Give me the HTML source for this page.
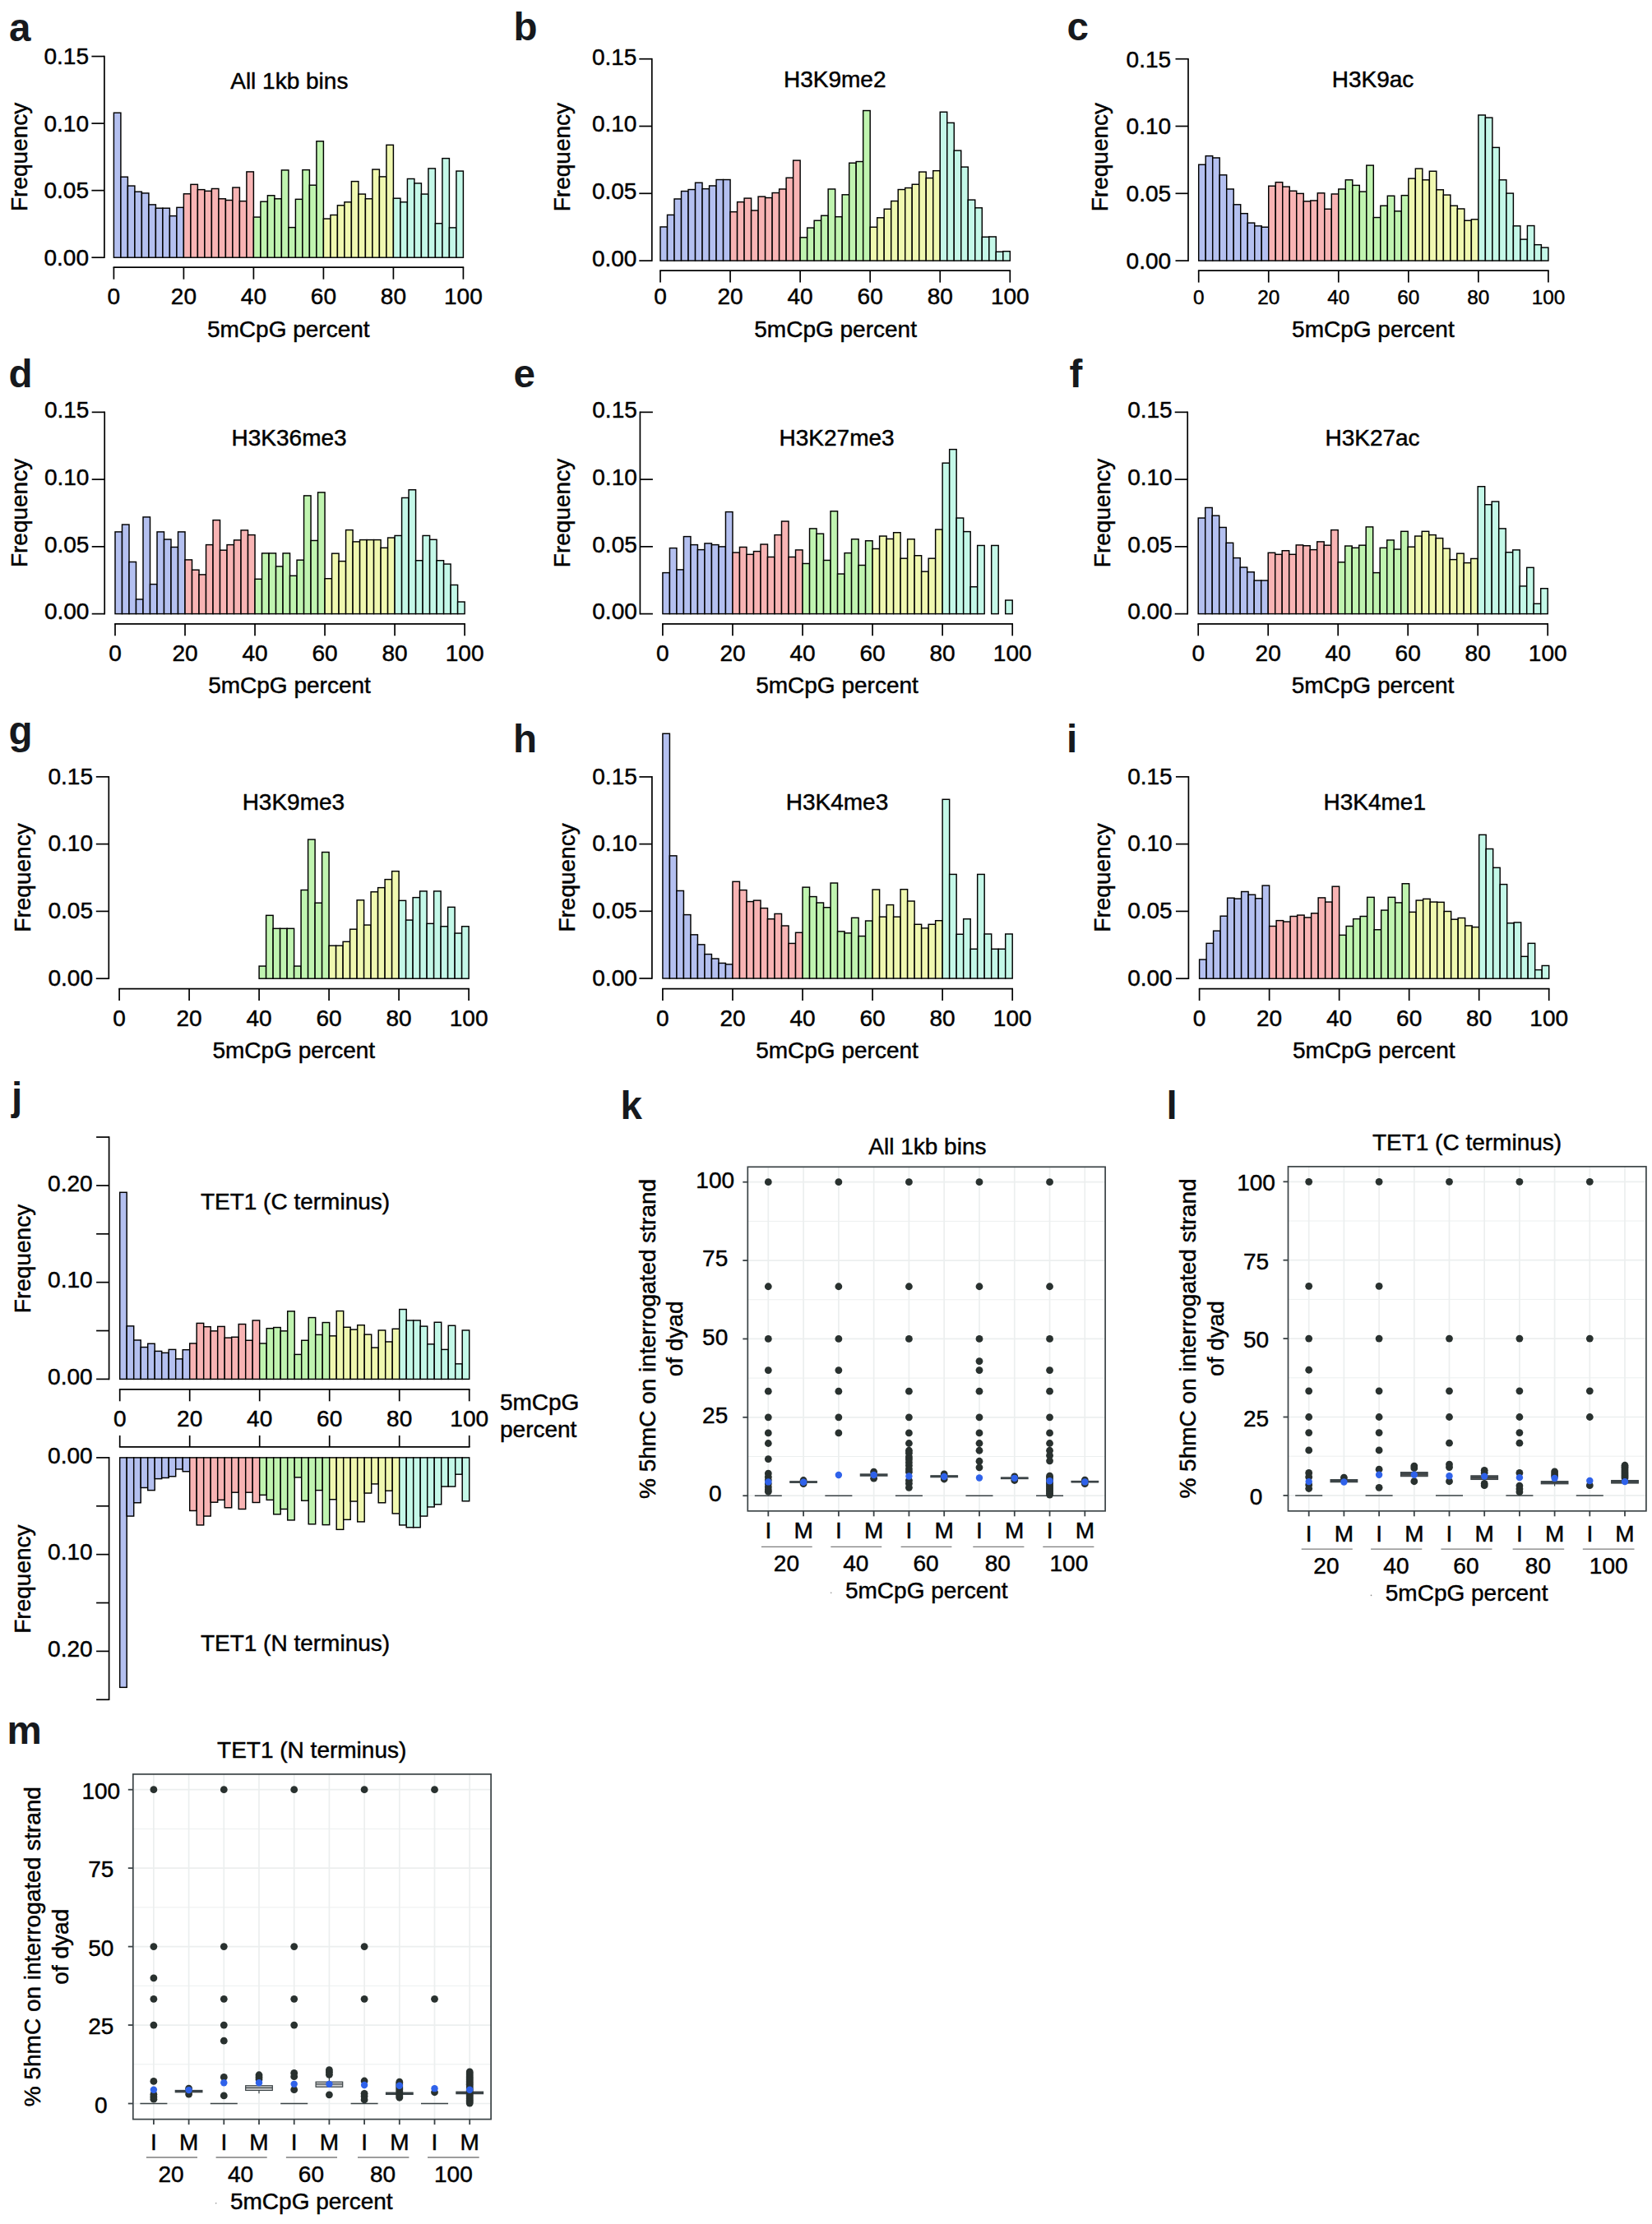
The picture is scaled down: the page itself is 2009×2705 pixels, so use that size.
<!DOCTYPE html>
<html lang="en"><head><meta charset="utf-8"><title>Figure</title>
<style>html,body{margin:0;padding:0;background:#fff}svg{display:block}</style></head>
<body>
<svg width="2009" height="2705" viewBox="0 0 2009 2705" font-family="'Liberation Sans', Arial, Helvetica, sans-serif">
<rect width="2009" height="2705" fill="#fff"/>
<g id="panel-a">
<rect x="138.40" y="137.20" width="8.50" height="176.00" fill="#b4c0f0" stroke="#000" stroke-width="1.45"/>
<rect x="146.90" y="215.20" width="8.50" height="98.00" fill="#b4c0f0" stroke="#000" stroke-width="1.45"/>
<rect x="155.40" y="226.06" width="8.50" height="87.14" fill="#b4c0f0" stroke="#000" stroke-width="1.45"/>
<rect x="163.90" y="233.20" width="8.50" height="80.00" fill="#b4c0f0" stroke="#000" stroke-width="1.45"/>
<rect x="172.40" y="234.91" width="8.50" height="78.29" fill="#b4c0f0" stroke="#000" stroke-width="1.45"/>
<rect x="180.90" y="248.91" width="8.50" height="64.29" fill="#b4c0f0" stroke="#000" stroke-width="1.45"/>
<rect x="189.40" y="253.20" width="8.50" height="60.00" fill="#b4c0f0" stroke="#000" stroke-width="1.45"/>
<rect x="197.90" y="253.20" width="8.50" height="60.00" fill="#b4c0f0" stroke="#000" stroke-width="1.45"/>
<rect x="206.40" y="262.63" width="8.50" height="50.57" fill="#b4c0f0" stroke="#000" stroke-width="1.45"/>
<rect x="214.90" y="252.34" width="8.50" height="60.86" fill="#b4c0f0" stroke="#000" stroke-width="1.45"/>
<rect x="223.40" y="235.77" width="8.50" height="77.43" fill="#f8b4b4" stroke="#000" stroke-width="1.45"/>
<rect x="231.90" y="224.34" width="8.50" height="88.86" fill="#f8b4b4" stroke="#000" stroke-width="1.45"/>
<rect x="240.40" y="230.63" width="8.50" height="82.57" fill="#f8b4b4" stroke="#000" stroke-width="1.45"/>
<rect x="248.90" y="232.34" width="8.50" height="80.86" fill="#f8b4b4" stroke="#000" stroke-width="1.45"/>
<rect x="257.40" y="229.49" width="8.50" height="83.71" fill="#f8b4b4" stroke="#000" stroke-width="1.45"/>
<rect x="265.90" y="241.77" width="8.50" height="71.43" fill="#f8b4b4" stroke="#000" stroke-width="1.45"/>
<rect x="274.40" y="243.49" width="8.50" height="69.71" fill="#f8b4b4" stroke="#000" stroke-width="1.45"/>
<rect x="282.90" y="228.06" width="8.50" height="85.14" fill="#f8b4b4" stroke="#000" stroke-width="1.45"/>
<rect x="291.40" y="244.63" width="8.50" height="68.57" fill="#f8b4b4" stroke="#000" stroke-width="1.45"/>
<rect x="299.90" y="208.91" width="8.50" height="104.29" fill="#f8b4b4" stroke="#000" stroke-width="1.45"/>
<rect x="308.40" y="264.06" width="8.50" height="49.14" fill="#c0f4b0" stroke="#000" stroke-width="1.45"/>
<rect x="316.90" y="245.20" width="8.50" height="68.00" fill="#c0f4b0" stroke="#000" stroke-width="1.45"/>
<rect x="325.40" y="237.77" width="8.50" height="75.43" fill="#c0f4b0" stroke="#000" stroke-width="1.45"/>
<rect x="333.90" y="241.77" width="8.50" height="71.43" fill="#c0f4b0" stroke="#000" stroke-width="1.45"/>
<rect x="342.40" y="206.91" width="8.50" height="106.29" fill="#c0f4b0" stroke="#000" stroke-width="1.45"/>
<rect x="350.90" y="276.63" width="8.50" height="36.57" fill="#c0f4b0" stroke="#000" stroke-width="1.45"/>
<rect x="359.40" y="242.34" width="8.50" height="70.86" fill="#c0f4b0" stroke="#000" stroke-width="1.45"/>
<rect x="367.90" y="206.63" width="8.50" height="106.57" fill="#c0f4b0" stroke="#000" stroke-width="1.45"/>
<rect x="376.40" y="225.20" width="8.50" height="88.00" fill="#c0f4b0" stroke="#000" stroke-width="1.45"/>
<rect x="384.90" y="171.77" width="8.50" height="141.43" fill="#c0f4b0" stroke="#000" stroke-width="1.45"/>
<rect x="393.40" y="266.06" width="8.50" height="47.14" fill="#f0f8b0" stroke="#000" stroke-width="1.45"/>
<rect x="401.90" y="261.49" width="8.50" height="51.71" fill="#f0f8b0" stroke="#000" stroke-width="1.45"/>
<rect x="410.40" y="249.77" width="8.50" height="63.43" fill="#f0f8b0" stroke="#000" stroke-width="1.45"/>
<rect x="418.90" y="245.77" width="8.50" height="67.43" fill="#f0f8b0" stroke="#000" stroke-width="1.45"/>
<rect x="427.40" y="220.63" width="8.50" height="92.57" fill="#f0f8b0" stroke="#000" stroke-width="1.45"/>
<rect x="435.90" y="236.06" width="8.50" height="77.14" fill="#f0f8b0" stroke="#000" stroke-width="1.45"/>
<rect x="444.40" y="241.77" width="8.50" height="71.43" fill="#f0f8b0" stroke="#000" stroke-width="1.45"/>
<rect x="452.90" y="206.06" width="8.50" height="107.14" fill="#f0f8b0" stroke="#000" stroke-width="1.45"/>
<rect x="461.40" y="214.91" width="8.50" height="98.29" fill="#f0f8b0" stroke="#000" stroke-width="1.45"/>
<rect x="469.90" y="176.34" width="8.50" height="136.86" fill="#f0f8b0" stroke="#000" stroke-width="1.45"/>
<rect x="478.40" y="241.20" width="8.50" height="72.00" fill="#c4f8e8" stroke="#000" stroke-width="1.45"/>
<rect x="486.90" y="245.77" width="8.50" height="67.43" fill="#c4f8e8" stroke="#000" stroke-width="1.45"/>
<rect x="495.40" y="217.49" width="8.50" height="95.71" fill="#c4f8e8" stroke="#000" stroke-width="1.45"/>
<rect x="503.90" y="222.91" width="8.50" height="90.29" fill="#c4f8e8" stroke="#000" stroke-width="1.45"/>
<rect x="512.40" y="236.06" width="8.50" height="77.14" fill="#c4f8e8" stroke="#000" stroke-width="1.45"/>
<rect x="520.90" y="204.91" width="8.50" height="108.29" fill="#c4f8e8" stroke="#000" stroke-width="1.45"/>
<rect x="529.40" y="271.77" width="8.50" height="41.43" fill="#c4f8e8" stroke="#000" stroke-width="1.45"/>
<rect x="537.90" y="192.63" width="8.50" height="120.57" fill="#c4f8e8" stroke="#000" stroke-width="1.45"/>
<rect x="546.40" y="276.91" width="8.50" height="36.29" fill="#c4f8e8" stroke="#000" stroke-width="1.45"/>
<rect x="554.90" y="208.06" width="8.50" height="105.14" fill="#c4f8e8" stroke="#000" stroke-width="1.45"/>
<line x1="126.90" y1="67.75" x2="126.90" y2="314.00" stroke="#000" stroke-width="1.7" stroke-linecap="butt"/>
<line x1="126.90" y1="313.20" x2="111.40" y2="313.20" stroke="#000" stroke-width="1.7" stroke-linecap="butt"/>
<text x="108.00" y="323.00" font-size="28" text-anchor="end" font-weight="normal" fill="#000" stroke="#000" stroke-width="0.45">0.00</text>
<line x1="126.90" y1="231.65" x2="111.40" y2="231.65" stroke="#000" stroke-width="1.7" stroke-linecap="butt"/>
<text x="108.00" y="241.45" font-size="28" text-anchor="end" font-weight="normal" fill="#000" stroke="#000" stroke-width="0.45">0.05</text>
<line x1="126.90" y1="150.10" x2="111.40" y2="150.10" stroke="#000" stroke-width="1.7" stroke-linecap="butt"/>
<text x="108.00" y="159.90" font-size="28" text-anchor="end" font-weight="normal" fill="#000" stroke="#000" stroke-width="0.45">0.10</text>
<line x1="126.90" y1="68.55" x2="111.40" y2="68.55" stroke="#000" stroke-width="1.7" stroke-linecap="butt"/>
<text x="108.00" y="78.35" font-size="28" text-anchor="end" font-weight="normal" fill="#000" stroke="#000" stroke-width="0.45">0.15</text>
<line x1="137.60" y1="325.20" x2="564.20" y2="325.20" stroke="#000" stroke-width="1.7" stroke-linecap="butt"/>
<line x1="138.40" y1="325.20" x2="138.40" y2="339.70" stroke="#000" stroke-width="1.7" stroke-linecap="butt"/>
<text x="138.40" y="370.30" font-size="28" text-anchor="middle" font-weight="normal" fill="#000" stroke="#000" stroke-width="0.45">0</text>
<line x1="223.40" y1="325.20" x2="223.40" y2="339.70" stroke="#000" stroke-width="1.7" stroke-linecap="butt"/>
<text x="223.40" y="370.30" font-size="28" text-anchor="middle" font-weight="normal" fill="#000" stroke="#000" stroke-width="0.45">20</text>
<line x1="308.40" y1="325.20" x2="308.40" y2="339.70" stroke="#000" stroke-width="1.7" stroke-linecap="butt"/>
<text x="308.40" y="370.30" font-size="28" text-anchor="middle" font-weight="normal" fill="#000" stroke="#000" stroke-width="0.45">40</text>
<line x1="393.40" y1="325.20" x2="393.40" y2="339.70" stroke="#000" stroke-width="1.7" stroke-linecap="butt"/>
<text x="393.40" y="370.30" font-size="28" text-anchor="middle" font-weight="normal" fill="#000" stroke="#000" stroke-width="0.45">60</text>
<line x1="478.40" y1="325.20" x2="478.40" y2="339.70" stroke="#000" stroke-width="1.7" stroke-linecap="butt"/>
<text x="478.40" y="370.30" font-size="28" text-anchor="middle" font-weight="normal" fill="#000" stroke="#000" stroke-width="0.45">80</text>
<line x1="563.40" y1="325.20" x2="563.40" y2="339.70" stroke="#000" stroke-width="1.7" stroke-linecap="butt"/>
<text x="563.40" y="370.30" font-size="28" text-anchor="middle" font-weight="normal" fill="#000" stroke="#000" stroke-width="0.45">100</text>
<text x="350.80" y="409.50" font-size="28" text-anchor="middle" font-weight="normal" fill="#000" stroke="#000" stroke-width="0.45">5mCpG percent</text>
<text x="351.80" y="108.20" font-size="28" text-anchor="middle" font-weight="normal" fill="#000" stroke="#000" stroke-width="0.45">All 1kb bins</text>
<text x="33.00" y="190.88" font-size="28" text-anchor="middle" font-weight="normal" fill="#000" stroke="#000" stroke-width="0.45" transform="rotate(-90 33.00 190.88)">Frequency</text>
</g>
<g id="panel-b">
<rect x="803.00" y="275.96" width="8.51" height="41.14" fill="#b4c0f0" stroke="#000" stroke-width="1.45"/>
<rect x="811.51" y="261.39" width="8.51" height="55.71" fill="#b4c0f0" stroke="#000" stroke-width="1.45"/>
<rect x="820.01" y="241.96" width="8.51" height="75.14" fill="#b4c0f0" stroke="#000" stroke-width="1.45"/>
<rect x="828.52" y="232.53" width="8.51" height="84.57" fill="#b4c0f0" stroke="#000" stroke-width="1.45"/>
<rect x="837.02" y="230.53" width="8.51" height="86.57" fill="#b4c0f0" stroke="#000" stroke-width="1.45"/>
<rect x="845.53" y="222.24" width="8.51" height="94.86" fill="#b4c0f0" stroke="#000" stroke-width="1.45"/>
<rect x="854.04" y="229.67" width="8.51" height="87.43" fill="#b4c0f0" stroke="#000" stroke-width="1.45"/>
<rect x="862.54" y="225.96" width="8.51" height="91.14" fill="#b4c0f0" stroke="#000" stroke-width="1.45"/>
<rect x="871.05" y="218.53" width="8.51" height="98.57" fill="#b4c0f0" stroke="#000" stroke-width="1.45"/>
<rect x="879.55" y="218.53" width="8.51" height="98.57" fill="#b4c0f0" stroke="#000" stroke-width="1.45"/>
<rect x="888.06" y="257.67" width="8.51" height="59.43" fill="#f8b4b4" stroke="#000" stroke-width="1.45"/>
<rect x="896.57" y="245.67" width="8.51" height="71.43" fill="#f8b4b4" stroke="#000" stroke-width="1.45"/>
<rect x="905.07" y="241.10" width="8.51" height="76.00" fill="#f8b4b4" stroke="#000" stroke-width="1.45"/>
<rect x="913.58" y="255.96" width="8.51" height="61.14" fill="#f8b4b4" stroke="#000" stroke-width="1.45"/>
<rect x="922.08" y="239.10" width="8.51" height="78.00" fill="#f8b4b4" stroke="#000" stroke-width="1.45"/>
<rect x="930.59" y="240.53" width="8.51" height="76.57" fill="#f8b4b4" stroke="#000" stroke-width="1.45"/>
<rect x="939.10" y="234.53" width="8.51" height="82.57" fill="#f8b4b4" stroke="#000" stroke-width="1.45"/>
<rect x="947.60" y="229.96" width="8.51" height="87.14" fill="#f8b4b4" stroke="#000" stroke-width="1.45"/>
<rect x="956.11" y="216.24" width="8.51" height="100.86" fill="#f8b4b4" stroke="#000" stroke-width="1.45"/>
<rect x="964.61" y="195.10" width="8.51" height="122.00" fill="#f8b4b4" stroke="#000" stroke-width="1.45"/>
<rect x="973.12" y="288.81" width="8.51" height="28.29" fill="#c0f4b0" stroke="#000" stroke-width="1.45"/>
<rect x="981.63" y="277.10" width="8.51" height="40.00" fill="#c0f4b0" stroke="#000" stroke-width="1.45"/>
<rect x="990.13" y="268.24" width="8.51" height="48.86" fill="#c0f4b0" stroke="#000" stroke-width="1.45"/>
<rect x="998.64" y="262.24" width="8.51" height="54.86" fill="#c0f4b0" stroke="#000" stroke-width="1.45"/>
<rect x="1007.14" y="229.96" width="8.51" height="87.14" fill="#c0f4b0" stroke="#000" stroke-width="1.45"/>
<rect x="1015.65" y="263.67" width="8.51" height="53.43" fill="#c0f4b0" stroke="#000" stroke-width="1.45"/>
<rect x="1024.16" y="236.81" width="8.51" height="80.29" fill="#c0f4b0" stroke="#000" stroke-width="1.45"/>
<rect x="1032.66" y="198.24" width="8.51" height="118.86" fill="#c0f4b0" stroke="#000" stroke-width="1.45"/>
<rect x="1041.17" y="196.53" width="8.51" height="120.57" fill="#c0f4b0" stroke="#000" stroke-width="1.45"/>
<rect x="1049.67" y="134.53" width="8.51" height="182.57" fill="#c0f4b0" stroke="#000" stroke-width="1.45"/>
<rect x="1058.18" y="276.24" width="8.51" height="40.86" fill="#f0f8b0" stroke="#000" stroke-width="1.45"/>
<rect x="1066.69" y="264.81" width="8.51" height="52.29" fill="#f0f8b0" stroke="#000" stroke-width="1.45"/>
<rect x="1075.19" y="254.24" width="8.51" height="62.86" fill="#f0f8b0" stroke="#000" stroke-width="1.45"/>
<rect x="1083.70" y="244.53" width="8.51" height="72.57" fill="#f0f8b0" stroke="#000" stroke-width="1.45"/>
<rect x="1092.20" y="230.53" width="8.51" height="86.57" fill="#f0f8b0" stroke="#000" stroke-width="1.45"/>
<rect x="1100.71" y="228.53" width="8.51" height="88.57" fill="#f0f8b0" stroke="#000" stroke-width="1.45"/>
<rect x="1109.22" y="224.24" width="8.51" height="92.86" fill="#f0f8b0" stroke="#000" stroke-width="1.45"/>
<rect x="1117.72" y="209.10" width="8.51" height="108.00" fill="#f0f8b0" stroke="#000" stroke-width="1.45"/>
<rect x="1126.23" y="216.53" width="8.51" height="100.57" fill="#f0f8b0" stroke="#000" stroke-width="1.45"/>
<rect x="1134.73" y="207.67" width="8.51" height="109.43" fill="#f0f8b0" stroke="#000" stroke-width="1.45"/>
<rect x="1143.24" y="136.24" width="8.51" height="180.86" fill="#c4f8e8" stroke="#000" stroke-width="1.45"/>
<rect x="1151.75" y="149.39" width="8.51" height="167.71" fill="#c4f8e8" stroke="#000" stroke-width="1.45"/>
<rect x="1160.25" y="183.10" width="8.51" height="134.00" fill="#c4f8e8" stroke="#000" stroke-width="1.45"/>
<rect x="1168.76" y="203.10" width="8.51" height="114.00" fill="#c4f8e8" stroke="#000" stroke-width="1.45"/>
<rect x="1177.26" y="243.10" width="8.51" height="74.00" fill="#c4f8e8" stroke="#000" stroke-width="1.45"/>
<rect x="1185.77" y="252.81" width="8.51" height="64.29" fill="#c4f8e8" stroke="#000" stroke-width="1.45"/>
<rect x="1194.28" y="288.24" width="8.51" height="28.86" fill="#c4f8e8" stroke="#000" stroke-width="1.45"/>
<rect x="1202.78" y="287.96" width="8.51" height="29.14" fill="#c4f8e8" stroke="#000" stroke-width="1.45"/>
<rect x="1211.29" y="306.24" width="8.51" height="10.86" fill="#c4f8e8" stroke="#000" stroke-width="1.45"/>
<rect x="1219.79" y="305.67" width="8.51" height="11.43" fill="#c4f8e8" stroke="#000" stroke-width="1.45"/>
<line x1="792.80" y1="70.90" x2="792.80" y2="317.90" stroke="#000" stroke-width="1.7" stroke-linecap="butt"/>
<line x1="792.80" y1="317.10" x2="777.30" y2="317.10" stroke="#000" stroke-width="1.7" stroke-linecap="butt"/>
<text x="774.40" y="323.90" font-size="28" text-anchor="end" font-weight="normal" fill="#000" stroke="#000" stroke-width="0.45">0.00</text>
<line x1="792.80" y1="235.30" x2="777.30" y2="235.30" stroke="#000" stroke-width="1.7" stroke-linecap="butt"/>
<text x="774.40" y="242.10" font-size="28" text-anchor="end" font-weight="normal" fill="#000" stroke="#000" stroke-width="0.45">0.05</text>
<line x1="792.80" y1="153.50" x2="777.30" y2="153.50" stroke="#000" stroke-width="1.7" stroke-linecap="butt"/>
<text x="774.40" y="160.30" font-size="28" text-anchor="end" font-weight="normal" fill="#000" stroke="#000" stroke-width="0.45">0.10</text>
<line x1="792.80" y1="71.70" x2="777.30" y2="71.70" stroke="#000" stroke-width="1.7" stroke-linecap="butt"/>
<text x="774.40" y="78.50" font-size="28" text-anchor="end" font-weight="normal" fill="#000" stroke="#000" stroke-width="0.45">0.15</text>
<line x1="802.20" y1="329.10" x2="1229.10" y2="329.10" stroke="#000" stroke-width="1.7" stroke-linecap="butt"/>
<line x1="803.00" y1="329.10" x2="803.00" y2="343.60" stroke="#000" stroke-width="1.7" stroke-linecap="butt"/>
<text x="803.00" y="370.30" font-size="28" text-anchor="middle" font-weight="normal" fill="#000" stroke="#000" stroke-width="0.45">0</text>
<line x1="888.06" y1="329.10" x2="888.06" y2="343.60" stroke="#000" stroke-width="1.7" stroke-linecap="butt"/>
<text x="888.06" y="370.30" font-size="28" text-anchor="middle" font-weight="normal" fill="#000" stroke="#000" stroke-width="0.45">20</text>
<line x1="973.12" y1="329.10" x2="973.12" y2="343.60" stroke="#000" stroke-width="1.7" stroke-linecap="butt"/>
<text x="973.12" y="370.30" font-size="28" text-anchor="middle" font-weight="normal" fill="#000" stroke="#000" stroke-width="0.45">40</text>
<line x1="1058.18" y1="329.10" x2="1058.18" y2="343.60" stroke="#000" stroke-width="1.7" stroke-linecap="butt"/>
<text x="1058.18" y="370.30" font-size="28" text-anchor="middle" font-weight="normal" fill="#000" stroke="#000" stroke-width="0.45">60</text>
<line x1="1143.24" y1="329.10" x2="1143.24" y2="343.60" stroke="#000" stroke-width="1.7" stroke-linecap="butt"/>
<text x="1143.24" y="370.30" font-size="28" text-anchor="middle" font-weight="normal" fill="#000" stroke="#000" stroke-width="0.45">80</text>
<line x1="1228.30" y1="329.10" x2="1228.30" y2="343.60" stroke="#000" stroke-width="1.7" stroke-linecap="butt"/>
<text x="1228.30" y="370.30" font-size="28" text-anchor="middle" font-weight="normal" fill="#000" stroke="#000" stroke-width="0.45">100</text>
<text x="1016.10" y="409.50" font-size="28" text-anchor="middle" font-weight="normal" fill="#000" stroke="#000" stroke-width="0.45">5mCpG percent</text>
<text x="1015.20" y="105.60" font-size="28" text-anchor="middle" font-weight="normal" fill="#000" stroke="#000" stroke-width="0.45">H3K9me2</text>
<text x="693.00" y="191.10" font-size="28" text-anchor="middle" font-weight="normal" fill="#000" stroke="#000" stroke-width="0.45" transform="rotate(-90 693.00 191.10)">Frequency</text>
</g>
<g id="panel-c">
<rect x="1457.70" y="200.24" width="8.50" height="116.86" fill="#b4c0f0" stroke="#000" stroke-width="1.45"/>
<rect x="1466.20" y="189.67" width="8.50" height="127.43" fill="#b4c0f0" stroke="#000" stroke-width="1.45"/>
<rect x="1474.71" y="191.96" width="8.50" height="125.14" fill="#b4c0f0" stroke="#000" stroke-width="1.45"/>
<rect x="1483.21" y="212.81" width="8.50" height="104.29" fill="#b4c0f0" stroke="#000" stroke-width="1.45"/>
<rect x="1491.72" y="229.96" width="8.50" height="87.14" fill="#b4c0f0" stroke="#000" stroke-width="1.45"/>
<rect x="1500.22" y="248.81" width="8.50" height="68.29" fill="#b4c0f0" stroke="#000" stroke-width="1.45"/>
<rect x="1508.72" y="259.67" width="8.50" height="57.43" fill="#b4c0f0" stroke="#000" stroke-width="1.45"/>
<rect x="1517.23" y="271.10" width="8.50" height="46.00" fill="#b4c0f0" stroke="#000" stroke-width="1.45"/>
<rect x="1525.73" y="274.81" width="8.50" height="42.29" fill="#b4c0f0" stroke="#000" stroke-width="1.45"/>
<rect x="1534.24" y="276.24" width="8.50" height="40.86" fill="#b4c0f0" stroke="#000" stroke-width="1.45"/>
<rect x="1542.74" y="226.24" width="8.50" height="90.86" fill="#f8b4b4" stroke="#000" stroke-width="1.45"/>
<rect x="1551.24" y="221.67" width="8.50" height="95.43" fill="#f8b4b4" stroke="#000" stroke-width="1.45"/>
<rect x="1559.75" y="227.10" width="8.50" height="90.00" fill="#f8b4b4" stroke="#000" stroke-width="1.45"/>
<rect x="1568.25" y="232.24" width="8.50" height="84.86" fill="#f8b4b4" stroke="#000" stroke-width="1.45"/>
<rect x="1576.76" y="235.39" width="8.50" height="81.71" fill="#f8b4b4" stroke="#000" stroke-width="1.45"/>
<rect x="1585.26" y="244.81" width="8.50" height="72.29" fill="#f8b4b4" stroke="#000" stroke-width="1.45"/>
<rect x="1593.76" y="243.96" width="8.50" height="73.14" fill="#f8b4b4" stroke="#000" stroke-width="1.45"/>
<rect x="1602.27" y="234.81" width="8.50" height="82.29" fill="#f8b4b4" stroke="#000" stroke-width="1.45"/>
<rect x="1610.77" y="254.24" width="8.50" height="62.86" fill="#f8b4b4" stroke="#000" stroke-width="1.45"/>
<rect x="1619.28" y="235.96" width="8.50" height="81.14" fill="#f8b4b4" stroke="#000" stroke-width="1.45"/>
<rect x="1627.78" y="229.96" width="8.50" height="87.14" fill="#c0f4b0" stroke="#000" stroke-width="1.45"/>
<rect x="1636.28" y="218.81" width="8.50" height="98.29" fill="#c0f4b0" stroke="#000" stroke-width="1.45"/>
<rect x="1644.79" y="225.39" width="8.50" height="91.71" fill="#c0f4b0" stroke="#000" stroke-width="1.45"/>
<rect x="1653.29" y="233.10" width="8.50" height="84.00" fill="#c0f4b0" stroke="#000" stroke-width="1.45"/>
<rect x="1661.80" y="201.10" width="8.50" height="116.00" fill="#c0f4b0" stroke="#000" stroke-width="1.45"/>
<rect x="1670.30" y="264.53" width="8.50" height="52.57" fill="#c0f4b0" stroke="#000" stroke-width="1.45"/>
<rect x="1678.80" y="250.24" width="8.50" height="66.86" fill="#c0f4b0" stroke="#000" stroke-width="1.45"/>
<rect x="1687.31" y="238.24" width="8.50" height="78.86" fill="#c0f4b0" stroke="#000" stroke-width="1.45"/>
<rect x="1695.81" y="256.81" width="8.50" height="60.29" fill="#c0f4b0" stroke="#000" stroke-width="1.45"/>
<rect x="1704.32" y="237.67" width="8.50" height="79.43" fill="#c0f4b0" stroke="#000" stroke-width="1.45"/>
<rect x="1712.82" y="217.10" width="8.50" height="100.00" fill="#f0f8b0" stroke="#000" stroke-width="1.45"/>
<rect x="1721.32" y="205.10" width="8.50" height="112.00" fill="#f0f8b0" stroke="#000" stroke-width="1.45"/>
<rect x="1729.83" y="218.81" width="8.50" height="98.29" fill="#f0f8b0" stroke="#000" stroke-width="1.45"/>
<rect x="1738.33" y="208.24" width="8.50" height="108.86" fill="#f0f8b0" stroke="#000" stroke-width="1.45"/>
<rect x="1746.84" y="230.81" width="8.50" height="86.29" fill="#f0f8b0" stroke="#000" stroke-width="1.45"/>
<rect x="1755.34" y="237.10" width="8.50" height="80.00" fill="#f0f8b0" stroke="#000" stroke-width="1.45"/>
<rect x="1763.84" y="250.24" width="8.50" height="66.86" fill="#f0f8b0" stroke="#000" stroke-width="1.45"/>
<rect x="1772.35" y="253.96" width="8.50" height="63.14" fill="#f0f8b0" stroke="#000" stroke-width="1.45"/>
<rect x="1780.85" y="268.24" width="8.50" height="48.86" fill="#f0f8b0" stroke="#000" stroke-width="1.45"/>
<rect x="1789.36" y="266.81" width="8.50" height="50.29" fill="#f0f8b0" stroke="#000" stroke-width="1.45"/>
<rect x="1797.86" y="139.96" width="8.50" height="177.14" fill="#c4f8e8" stroke="#000" stroke-width="1.45"/>
<rect x="1806.36" y="143.10" width="8.50" height="174.00" fill="#c4f8e8" stroke="#000" stroke-width="1.45"/>
<rect x="1814.87" y="179.39" width="8.50" height="137.71" fill="#c4f8e8" stroke="#000" stroke-width="1.45"/>
<rect x="1823.37" y="218.81" width="8.50" height="98.29" fill="#c4f8e8" stroke="#000" stroke-width="1.45"/>
<rect x="1831.88" y="235.10" width="8.50" height="82.00" fill="#c4f8e8" stroke="#000" stroke-width="1.45"/>
<rect x="1840.38" y="274.81" width="8.50" height="42.29" fill="#c4f8e8" stroke="#000" stroke-width="1.45"/>
<rect x="1848.88" y="291.10" width="8.50" height="26.00" fill="#c4f8e8" stroke="#000" stroke-width="1.45"/>
<rect x="1857.39" y="274.53" width="8.50" height="42.57" fill="#c4f8e8" stroke="#000" stroke-width="1.45"/>
<rect x="1865.89" y="297.67" width="8.50" height="19.43" fill="#c4f8e8" stroke="#000" stroke-width="1.45"/>
<rect x="1874.40" y="301.10" width="8.50" height="16.00" fill="#c4f8e8" stroke="#000" stroke-width="1.45"/>
<line x1="1445.00" y1="70.90" x2="1445.00" y2="317.90" stroke="#000" stroke-width="1.7" stroke-linecap="butt"/>
<line x1="1445.00" y1="317.10" x2="1429.50" y2="317.10" stroke="#000" stroke-width="1.7" stroke-linecap="butt"/>
<text x="1424.10" y="326.90" font-size="28" text-anchor="end" font-weight="normal" fill="#000" stroke="#000" stroke-width="0.45">0.00</text>
<line x1="1445.00" y1="235.30" x2="1429.50" y2="235.30" stroke="#000" stroke-width="1.7" stroke-linecap="butt"/>
<text x="1424.10" y="245.10" font-size="28" text-anchor="end" font-weight="normal" fill="#000" stroke="#000" stroke-width="0.45">0.05</text>
<line x1="1445.00" y1="153.50" x2="1429.50" y2="153.50" stroke="#000" stroke-width="1.7" stroke-linecap="butt"/>
<text x="1424.10" y="163.30" font-size="28" text-anchor="end" font-weight="normal" fill="#000" stroke="#000" stroke-width="0.45">0.10</text>
<line x1="1445.00" y1="71.70" x2="1429.50" y2="71.70" stroke="#000" stroke-width="1.7" stroke-linecap="butt"/>
<text x="1424.10" y="81.50" font-size="28" text-anchor="end" font-weight="normal" fill="#000" stroke="#000" stroke-width="0.45">0.15</text>
<line x1="1456.90" y1="329.10" x2="1883.70" y2="329.10" stroke="#000" stroke-width="1.7" stroke-linecap="butt"/>
<line x1="1457.70" y1="329.10" x2="1457.70" y2="343.60" stroke="#000" stroke-width="1.7" stroke-linecap="butt"/>
<text x="1457.70" y="370.30" font-size="24.3" text-anchor="middle" font-weight="normal" fill="#000" stroke="#000" stroke-width="0.45">0</text>
<line x1="1542.74" y1="329.10" x2="1542.74" y2="343.60" stroke="#000" stroke-width="1.7" stroke-linecap="butt"/>
<text x="1542.74" y="370.30" font-size="24.3" text-anchor="middle" font-weight="normal" fill="#000" stroke="#000" stroke-width="0.45">20</text>
<line x1="1627.78" y1="329.10" x2="1627.78" y2="343.60" stroke="#000" stroke-width="1.7" stroke-linecap="butt"/>
<text x="1627.78" y="370.30" font-size="24.3" text-anchor="middle" font-weight="normal" fill="#000" stroke="#000" stroke-width="0.45">40</text>
<line x1="1712.82" y1="329.10" x2="1712.82" y2="343.60" stroke="#000" stroke-width="1.7" stroke-linecap="butt"/>
<text x="1712.82" y="370.30" font-size="24.3" text-anchor="middle" font-weight="normal" fill="#000" stroke="#000" stroke-width="0.45">60</text>
<line x1="1797.86" y1="329.10" x2="1797.86" y2="343.60" stroke="#000" stroke-width="1.7" stroke-linecap="butt"/>
<text x="1797.86" y="370.30" font-size="24.3" text-anchor="middle" font-weight="normal" fill="#000" stroke="#000" stroke-width="0.45">80</text>
<line x1="1882.90" y1="329.10" x2="1882.90" y2="343.60" stroke="#000" stroke-width="1.7" stroke-linecap="butt"/>
<text x="1882.90" y="370.30" font-size="24.3" text-anchor="middle" font-weight="normal" fill="#000" stroke="#000" stroke-width="0.45">100</text>
<text x="1669.90" y="409.50" font-size="28" text-anchor="middle" font-weight="normal" fill="#000" stroke="#000" stroke-width="0.45">5mCpG percent</text>
<text x="1669.50" y="105.80" font-size="28" text-anchor="middle" font-weight="normal" fill="#000" stroke="#000" stroke-width="0.45">H3K9ac</text>
<text x="1347.00" y="191.10" font-size="28" text-anchor="middle" font-weight="normal" fill="#000" stroke="#000" stroke-width="0.45" transform="rotate(-90 1347.00 191.10)">Frequency</text>
</g>
<g id="panel-d">
<rect x="140.00" y="646.89" width="8.50" height="99.71" fill="#b4c0f0" stroke="#000" stroke-width="1.45"/>
<rect x="148.50" y="638.03" width="8.50" height="108.57" fill="#b4c0f0" stroke="#000" stroke-width="1.45"/>
<rect x="157.00" y="683.46" width="8.50" height="63.14" fill="#b4c0f0" stroke="#000" stroke-width="1.45"/>
<rect x="165.51" y="728.89" width="8.50" height="17.71" fill="#b4c0f0" stroke="#000" stroke-width="1.45"/>
<rect x="174.01" y="628.89" width="8.50" height="117.71" fill="#b4c0f0" stroke="#000" stroke-width="1.45"/>
<rect x="182.51" y="710.60" width="8.50" height="36.00" fill="#b4c0f0" stroke="#000" stroke-width="1.45"/>
<rect x="191.01" y="646.89" width="8.50" height="99.71" fill="#b4c0f0" stroke="#000" stroke-width="1.45"/>
<rect x="199.51" y="656.03" width="8.50" height="90.57" fill="#b4c0f0" stroke="#000" stroke-width="1.45"/>
<rect x="208.02" y="665.46" width="8.50" height="81.14" fill="#b4c0f0" stroke="#000" stroke-width="1.45"/>
<rect x="216.52" y="646.89" width="8.50" height="99.71" fill="#b4c0f0" stroke="#000" stroke-width="1.45"/>
<rect x="225.02" y="680.89" width="8.50" height="65.71" fill="#f8b4b4" stroke="#000" stroke-width="1.45"/>
<rect x="233.52" y="693.17" width="8.50" height="53.43" fill="#f8b4b4" stroke="#000" stroke-width="1.45"/>
<rect x="242.02" y="698.89" width="8.50" height="47.71" fill="#f8b4b4" stroke="#000" stroke-width="1.45"/>
<rect x="250.53" y="662.60" width="8.50" height="84.00" fill="#f8b4b4" stroke="#000" stroke-width="1.45"/>
<rect x="259.03" y="632.60" width="8.50" height="114.00" fill="#f8b4b4" stroke="#000" stroke-width="1.45"/>
<rect x="267.53" y="669.17" width="8.50" height="77.43" fill="#f8b4b4" stroke="#000" stroke-width="1.45"/>
<rect x="276.03" y="662.60" width="8.50" height="84.00" fill="#f8b4b4" stroke="#000" stroke-width="1.45"/>
<rect x="284.53" y="656.89" width="8.50" height="89.71" fill="#f8b4b4" stroke="#000" stroke-width="1.45"/>
<rect x="293.04" y="644.89" width="8.50" height="101.71" fill="#f8b4b4" stroke="#000" stroke-width="1.45"/>
<rect x="301.54" y="650.60" width="8.50" height="96.00" fill="#f8b4b4" stroke="#000" stroke-width="1.45"/>
<rect x="310.04" y="704.31" width="8.50" height="42.29" fill="#c0f4b0" stroke="#000" stroke-width="1.45"/>
<rect x="318.54" y="672.89" width="8.50" height="73.71" fill="#c0f4b0" stroke="#000" stroke-width="1.45"/>
<rect x="327.04" y="672.89" width="8.50" height="73.71" fill="#c0f4b0" stroke="#000" stroke-width="1.45"/>
<rect x="335.55" y="688.89" width="8.50" height="57.71" fill="#c0f4b0" stroke="#000" stroke-width="1.45"/>
<rect x="344.05" y="672.89" width="8.50" height="73.71" fill="#c0f4b0" stroke="#000" stroke-width="1.45"/>
<rect x="352.55" y="700.31" width="8.50" height="46.29" fill="#c0f4b0" stroke="#000" stroke-width="1.45"/>
<rect x="361.05" y="681.17" width="8.50" height="65.43" fill="#c0f4b0" stroke="#000" stroke-width="1.45"/>
<rect x="369.55" y="602.89" width="8.50" height="143.71" fill="#c0f4b0" stroke="#000" stroke-width="1.45"/>
<rect x="378.06" y="657.46" width="8.50" height="89.14" fill="#c0f4b0" stroke="#000" stroke-width="1.45"/>
<rect x="386.56" y="598.89" width="8.50" height="147.71" fill="#c0f4b0" stroke="#000" stroke-width="1.45"/>
<rect x="395.06" y="703.74" width="8.50" height="42.86" fill="#f0f8b0" stroke="#000" stroke-width="1.45"/>
<rect x="403.56" y="673.17" width="8.50" height="73.43" fill="#f0f8b0" stroke="#000" stroke-width="1.45"/>
<rect x="412.06" y="682.60" width="8.50" height="64.00" fill="#f0f8b0" stroke="#000" stroke-width="1.45"/>
<rect x="420.57" y="644.60" width="8.50" height="102.00" fill="#f0f8b0" stroke="#000" stroke-width="1.45"/>
<rect x="429.07" y="658.89" width="8.50" height="87.71" fill="#f0f8b0" stroke="#000" stroke-width="1.45"/>
<rect x="437.57" y="656.60" width="8.50" height="90.00" fill="#f0f8b0" stroke="#000" stroke-width="1.45"/>
<rect x="446.07" y="656.60" width="8.50" height="90.00" fill="#f0f8b0" stroke="#000" stroke-width="1.45"/>
<rect x="454.57" y="656.60" width="8.50" height="90.00" fill="#f0f8b0" stroke="#000" stroke-width="1.45"/>
<rect x="463.08" y="666.31" width="8.50" height="80.29" fill="#f0f8b0" stroke="#000" stroke-width="1.45"/>
<rect x="471.58" y="654.03" width="8.50" height="92.57" fill="#f0f8b0" stroke="#000" stroke-width="1.45"/>
<rect x="480.08" y="651.46" width="8.50" height="95.14" fill="#c4f8e8" stroke="#000" stroke-width="1.45"/>
<rect x="488.58" y="605.46" width="8.50" height="141.14" fill="#c4f8e8" stroke="#000" stroke-width="1.45"/>
<rect x="497.08" y="595.74" width="8.50" height="150.86" fill="#c4f8e8" stroke="#000" stroke-width="1.45"/>
<rect x="505.59" y="681.74" width="8.50" height="64.86" fill="#c4f8e8" stroke="#000" stroke-width="1.45"/>
<rect x="514.09" y="651.46" width="8.50" height="95.14" fill="#c4f8e8" stroke="#000" stroke-width="1.45"/>
<rect x="522.59" y="656.31" width="8.50" height="90.29" fill="#c4f8e8" stroke="#000" stroke-width="1.45"/>
<rect x="531.09" y="681.74" width="8.50" height="64.86" fill="#c4f8e8" stroke="#000" stroke-width="1.45"/>
<rect x="539.59" y="686.03" width="8.50" height="60.57" fill="#c4f8e8" stroke="#000" stroke-width="1.45"/>
<rect x="548.10" y="711.46" width="8.50" height="35.14" fill="#c4f8e8" stroke="#000" stroke-width="1.45"/>
<rect x="556.60" y="732.03" width="8.50" height="14.57" fill="#c4f8e8" stroke="#000" stroke-width="1.45"/>
<line x1="127.20" y1="500.55" x2="127.20" y2="747.40" stroke="#000" stroke-width="1.7" stroke-linecap="butt"/>
<line x1="127.20" y1="746.60" x2="111.70" y2="746.60" stroke="#000" stroke-width="1.7" stroke-linecap="butt"/>
<text x="108.40" y="753.40" font-size="28" text-anchor="end" font-weight="normal" fill="#000" stroke="#000" stroke-width="0.45">0.00</text>
<line x1="127.20" y1="664.85" x2="111.70" y2="664.85" stroke="#000" stroke-width="1.7" stroke-linecap="butt"/>
<text x="108.40" y="671.65" font-size="28" text-anchor="end" font-weight="normal" fill="#000" stroke="#000" stroke-width="0.45">0.05</text>
<line x1="127.20" y1="583.10" x2="111.70" y2="583.10" stroke="#000" stroke-width="1.7" stroke-linecap="butt"/>
<text x="108.40" y="589.90" font-size="28" text-anchor="end" font-weight="normal" fill="#000" stroke="#000" stroke-width="0.45">0.10</text>
<line x1="127.20" y1="501.35" x2="111.70" y2="501.35" stroke="#000" stroke-width="1.7" stroke-linecap="butt"/>
<text x="108.40" y="508.15" font-size="28" text-anchor="end" font-weight="normal" fill="#000" stroke="#000" stroke-width="0.45">0.15</text>
<line x1="139.20" y1="758.80" x2="565.90" y2="758.80" stroke="#000" stroke-width="1.7" stroke-linecap="butt"/>
<line x1="140.00" y1="758.80" x2="140.00" y2="773.30" stroke="#000" stroke-width="1.7" stroke-linecap="butt"/>
<text x="140.00" y="804.20" font-size="28" text-anchor="middle" font-weight="normal" fill="#000" stroke="#000" stroke-width="0.45">0</text>
<line x1="225.02" y1="758.80" x2="225.02" y2="773.30" stroke="#000" stroke-width="1.7" stroke-linecap="butt"/>
<text x="225.02" y="804.20" font-size="28" text-anchor="middle" font-weight="normal" fill="#000" stroke="#000" stroke-width="0.45">20</text>
<line x1="310.04" y1="758.80" x2="310.04" y2="773.30" stroke="#000" stroke-width="1.7" stroke-linecap="butt"/>
<text x="310.04" y="804.20" font-size="28" text-anchor="middle" font-weight="normal" fill="#000" stroke="#000" stroke-width="0.45">40</text>
<line x1="395.06" y1="758.80" x2="395.06" y2="773.30" stroke="#000" stroke-width="1.7" stroke-linecap="butt"/>
<text x="395.06" y="804.20" font-size="28" text-anchor="middle" font-weight="normal" fill="#000" stroke="#000" stroke-width="0.45">60</text>
<line x1="480.08" y1="758.80" x2="480.08" y2="773.30" stroke="#000" stroke-width="1.7" stroke-linecap="butt"/>
<text x="480.08" y="804.20" font-size="28" text-anchor="middle" font-weight="normal" fill="#000" stroke="#000" stroke-width="0.45">80</text>
<line x1="565.10" y1="758.80" x2="565.10" y2="773.30" stroke="#000" stroke-width="1.7" stroke-linecap="butt"/>
<text x="565.10" y="804.20" font-size="28" text-anchor="middle" font-weight="normal" fill="#000" stroke="#000" stroke-width="0.45">100</text>
<text x="352.00" y="842.80" font-size="28" text-anchor="middle" font-weight="normal" fill="#000" stroke="#000" stroke-width="0.45">5mCpG percent</text>
<text x="351.60" y="541.50" font-size="28" text-anchor="middle" font-weight="normal" fill="#000" stroke="#000" stroke-width="0.45">H3K36me3</text>
<text x="33.00" y="623.98" font-size="28" text-anchor="middle" font-weight="normal" fill="#000" stroke="#000" stroke-width="0.45" transform="rotate(-90 33.00 623.98)">Frequency</text>
</g>
<g id="panel-e">
<rect x="805.90" y="696.60" width="8.51" height="50.00" fill="#b4c0f0" stroke="#000" stroke-width="1.45"/>
<rect x="814.41" y="666.60" width="8.51" height="80.00" fill="#b4c0f0" stroke="#000" stroke-width="1.45"/>
<rect x="822.91" y="692.89" width="8.51" height="53.71" fill="#b4c0f0" stroke="#000" stroke-width="1.45"/>
<rect x="831.42" y="652.60" width="8.51" height="94.00" fill="#b4c0f0" stroke="#000" stroke-width="1.45"/>
<rect x="839.92" y="662.60" width="8.51" height="84.00" fill="#b4c0f0" stroke="#000" stroke-width="1.45"/>
<rect x="848.43" y="668.60" width="8.51" height="78.00" fill="#b4c0f0" stroke="#000" stroke-width="1.45"/>
<rect x="856.94" y="660.89" width="8.51" height="85.71" fill="#b4c0f0" stroke="#000" stroke-width="1.45"/>
<rect x="865.44" y="662.60" width="8.51" height="84.00" fill="#b4c0f0" stroke="#000" stroke-width="1.45"/>
<rect x="873.95" y="664.89" width="8.51" height="81.71" fill="#b4c0f0" stroke="#000" stroke-width="1.45"/>
<rect x="882.45" y="622.60" width="8.51" height="124.00" fill="#b4c0f0" stroke="#000" stroke-width="1.45"/>
<rect x="890.96" y="672.03" width="8.51" height="74.57" fill="#f8b4b4" stroke="#000" stroke-width="1.45"/>
<rect x="899.47" y="665.46" width="8.51" height="81.14" fill="#f8b4b4" stroke="#000" stroke-width="1.45"/>
<rect x="907.97" y="674.31" width="8.51" height="72.29" fill="#f8b4b4" stroke="#000" stroke-width="1.45"/>
<rect x="916.48" y="670.60" width="8.51" height="76.00" fill="#f8b4b4" stroke="#000" stroke-width="1.45"/>
<rect x="924.98" y="662.03" width="8.51" height="84.57" fill="#f8b4b4" stroke="#000" stroke-width="1.45"/>
<rect x="933.49" y="677.46" width="8.51" height="69.14" fill="#f8b4b4" stroke="#000" stroke-width="1.45"/>
<rect x="942.00" y="650.60" width="8.51" height="96.00" fill="#f8b4b4" stroke="#000" stroke-width="1.45"/>
<rect x="950.50" y="634.03" width="8.51" height="112.57" fill="#f8b4b4" stroke="#000" stroke-width="1.45"/>
<rect x="959.01" y="677.46" width="8.51" height="69.14" fill="#f8b4b4" stroke="#000" stroke-width="1.45"/>
<rect x="967.51" y="668.89" width="8.51" height="77.71" fill="#f8b4b4" stroke="#000" stroke-width="1.45"/>
<rect x="976.02" y="685.46" width="8.51" height="61.14" fill="#c0f4b0" stroke="#000" stroke-width="1.45"/>
<rect x="984.53" y="642.89" width="8.51" height="103.71" fill="#c0f4b0" stroke="#000" stroke-width="1.45"/>
<rect x="993.03" y="649.17" width="8.51" height="97.43" fill="#c0f4b0" stroke="#000" stroke-width="1.45"/>
<rect x="1001.54" y="681.46" width="8.51" height="65.14" fill="#c0f4b0" stroke="#000" stroke-width="1.45"/>
<rect x="1010.04" y="621.74" width="8.51" height="124.86" fill="#c0f4b0" stroke="#000" stroke-width="1.45"/>
<rect x="1018.55" y="698.03" width="8.51" height="48.57" fill="#c0f4b0" stroke="#000" stroke-width="1.45"/>
<rect x="1027.06" y="672.60" width="8.51" height="74.00" fill="#c0f4b0" stroke="#000" stroke-width="1.45"/>
<rect x="1035.56" y="655.74" width="8.51" height="90.86" fill="#c0f4b0" stroke="#000" stroke-width="1.45"/>
<rect x="1044.07" y="687.46" width="8.51" height="59.14" fill="#c0f4b0" stroke="#000" stroke-width="1.45"/>
<rect x="1052.57" y="657.74" width="8.51" height="88.86" fill="#c0f4b0" stroke="#000" stroke-width="1.45"/>
<rect x="1061.08" y="667.46" width="8.51" height="79.14" fill="#f0f8b0" stroke="#000" stroke-width="1.45"/>
<rect x="1069.59" y="652.03" width="8.51" height="94.57" fill="#f0f8b0" stroke="#000" stroke-width="1.45"/>
<rect x="1078.09" y="655.46" width="8.51" height="91.14" fill="#f0f8b0" stroke="#000" stroke-width="1.45"/>
<rect x="1086.60" y="647.74" width="8.51" height="98.86" fill="#f0f8b0" stroke="#000" stroke-width="1.45"/>
<rect x="1095.10" y="679.17" width="8.51" height="67.43" fill="#f0f8b0" stroke="#000" stroke-width="1.45"/>
<rect x="1103.61" y="655.74" width="8.51" height="90.86" fill="#f0f8b0" stroke="#000" stroke-width="1.45"/>
<rect x="1112.12" y="675.74" width="8.51" height="70.86" fill="#f0f8b0" stroke="#000" stroke-width="1.45"/>
<rect x="1120.62" y="695.17" width="8.51" height="51.43" fill="#f0f8b0" stroke="#000" stroke-width="1.45"/>
<rect x="1129.13" y="679.17" width="8.51" height="67.43" fill="#f0f8b0" stroke="#000" stroke-width="1.45"/>
<rect x="1137.63" y="644.03" width="8.51" height="102.57" fill="#f0f8b0" stroke="#000" stroke-width="1.45"/>
<rect x="1146.14" y="563.17" width="8.51" height="183.43" fill="#c4f8e8" stroke="#000" stroke-width="1.45"/>
<rect x="1154.65" y="546.60" width="8.51" height="200.00" fill="#c4f8e8" stroke="#000" stroke-width="1.45"/>
<rect x="1163.15" y="630.03" width="8.51" height="116.57" fill="#c4f8e8" stroke="#000" stroke-width="1.45"/>
<rect x="1171.66" y="646.60" width="8.51" height="100.00" fill="#c4f8e8" stroke="#000" stroke-width="1.45"/>
<rect x="1180.16" y="713.74" width="8.51" height="32.86" fill="#c4f8e8" stroke="#000" stroke-width="1.45"/>
<rect x="1188.67" y="663.46" width="8.51" height="83.14" fill="#c4f8e8" stroke="#000" stroke-width="1.45"/>
<rect x="1205.68" y="663.46" width="8.51" height="83.14" fill="#c4f8e8" stroke="#000" stroke-width="1.45"/>
<rect x="1222.69" y="730.03" width="8.51" height="16.57" fill="#c4f8e8" stroke="#000" stroke-width="1.45"/>
<line x1="778.40" y1="500.55" x2="778.40" y2="747.40" stroke="#000" stroke-width="1.7" stroke-linecap="butt"/>
<line x1="778.40" y1="746.60" x2="793.90" y2="746.60" stroke="#000" stroke-width="1.7" stroke-linecap="butt"/>
<text x="774.80" y="753.40" font-size="28" text-anchor="end" font-weight="normal" fill="#000" stroke="#000" stroke-width="0.45">0.00</text>
<line x1="778.40" y1="664.85" x2="793.90" y2="664.85" stroke="#000" stroke-width="1.7" stroke-linecap="butt"/>
<text x="774.80" y="671.65" font-size="28" text-anchor="end" font-weight="normal" fill="#000" stroke="#000" stroke-width="0.45">0.05</text>
<line x1="778.40" y1="583.10" x2="793.90" y2="583.10" stroke="#000" stroke-width="1.7" stroke-linecap="butt"/>
<text x="774.80" y="589.90" font-size="28" text-anchor="end" font-weight="normal" fill="#000" stroke="#000" stroke-width="0.45">0.10</text>
<line x1="778.40" y1="501.35" x2="793.90" y2="501.35" stroke="#000" stroke-width="1.7" stroke-linecap="butt"/>
<text x="774.80" y="508.15" font-size="28" text-anchor="end" font-weight="normal" fill="#000" stroke="#000" stroke-width="0.45">0.15</text>
<line x1="805.10" y1="758.80" x2="1232.00" y2="758.80" stroke="#000" stroke-width="1.7" stroke-linecap="butt"/>
<line x1="805.90" y1="758.80" x2="805.90" y2="773.30" stroke="#000" stroke-width="1.7" stroke-linecap="butt"/>
<text x="805.90" y="804.20" font-size="28" text-anchor="middle" font-weight="normal" fill="#000" stroke="#000" stroke-width="0.45">0</text>
<line x1="890.96" y1="758.80" x2="890.96" y2="773.30" stroke="#000" stroke-width="1.7" stroke-linecap="butt"/>
<text x="890.96" y="804.20" font-size="28" text-anchor="middle" font-weight="normal" fill="#000" stroke="#000" stroke-width="0.45">20</text>
<line x1="976.02" y1="758.80" x2="976.02" y2="773.30" stroke="#000" stroke-width="1.7" stroke-linecap="butt"/>
<text x="976.02" y="804.20" font-size="28" text-anchor="middle" font-weight="normal" fill="#000" stroke="#000" stroke-width="0.45">40</text>
<line x1="1061.08" y1="758.80" x2="1061.08" y2="773.30" stroke="#000" stroke-width="1.7" stroke-linecap="butt"/>
<text x="1061.08" y="804.20" font-size="28" text-anchor="middle" font-weight="normal" fill="#000" stroke="#000" stroke-width="0.45">60</text>
<line x1="1146.14" y1="758.80" x2="1146.14" y2="773.30" stroke="#000" stroke-width="1.7" stroke-linecap="butt"/>
<text x="1146.14" y="804.20" font-size="28" text-anchor="middle" font-weight="normal" fill="#000" stroke="#000" stroke-width="0.45">80</text>
<line x1="1231.20" y1="758.80" x2="1231.20" y2="773.30" stroke="#000" stroke-width="1.7" stroke-linecap="butt"/>
<text x="1231.20" y="804.20" font-size="28" text-anchor="middle" font-weight="normal" fill="#000" stroke="#000" stroke-width="0.45">100</text>
<text x="1018.00" y="842.80" font-size="28" text-anchor="middle" font-weight="normal" fill="#000" stroke="#000" stroke-width="0.45">5mCpG percent</text>
<text x="1017.60" y="541.50" font-size="28" text-anchor="middle" font-weight="normal" fill="#000" stroke="#000" stroke-width="0.45">H3K27me3</text>
<text x="693.00" y="623.98" font-size="28" text-anchor="middle" font-weight="normal" fill="#000" stroke="#000" stroke-width="0.45" transform="rotate(-90 693.00 623.98)">Frequency</text>
</g>
<g id="panel-f">
<rect x="1457.20" y="630.03" width="8.50" height="116.57" fill="#b4c0f0" stroke="#000" stroke-width="1.45"/>
<rect x="1465.70" y="617.46" width="8.50" height="129.14" fill="#b4c0f0" stroke="#000" stroke-width="1.45"/>
<rect x="1474.20" y="627.17" width="8.50" height="119.43" fill="#b4c0f0" stroke="#000" stroke-width="1.45"/>
<rect x="1482.70" y="641.46" width="8.50" height="105.14" fill="#b4c0f0" stroke="#000" stroke-width="1.45"/>
<rect x="1491.20" y="660.31" width="8.50" height="86.29" fill="#b4c0f0" stroke="#000" stroke-width="1.45"/>
<rect x="1499.70" y="678.60" width="8.50" height="68.00" fill="#b4c0f0" stroke="#000" stroke-width="1.45"/>
<rect x="1508.20" y="690.03" width="8.50" height="56.57" fill="#b4c0f0" stroke="#000" stroke-width="1.45"/>
<rect x="1516.70" y="695.74" width="8.50" height="50.86" fill="#b4c0f0" stroke="#000" stroke-width="1.45"/>
<rect x="1525.20" y="706.03" width="8.50" height="40.57" fill="#b4c0f0" stroke="#000" stroke-width="1.45"/>
<rect x="1533.70" y="706.03" width="8.50" height="40.57" fill="#b4c0f0" stroke="#000" stroke-width="1.45"/>
<rect x="1542.20" y="672.31" width="8.50" height="74.29" fill="#f8b4b4" stroke="#000" stroke-width="1.45"/>
<rect x="1550.70" y="674.31" width="8.50" height="72.29" fill="#f8b4b4" stroke="#000" stroke-width="1.45"/>
<rect x="1559.20" y="669.74" width="8.50" height="76.86" fill="#f8b4b4" stroke="#000" stroke-width="1.45"/>
<rect x="1567.70" y="674.31" width="8.50" height="72.29" fill="#f8b4b4" stroke="#000" stroke-width="1.45"/>
<rect x="1576.20" y="662.89" width="8.50" height="83.71" fill="#f8b4b4" stroke="#000" stroke-width="1.45"/>
<rect x="1584.70" y="663.74" width="8.50" height="82.86" fill="#f8b4b4" stroke="#000" stroke-width="1.45"/>
<rect x="1593.20" y="668.60" width="8.50" height="78.00" fill="#f8b4b4" stroke="#000" stroke-width="1.45"/>
<rect x="1601.70" y="658.89" width="8.50" height="87.71" fill="#f8b4b4" stroke="#000" stroke-width="1.45"/>
<rect x="1610.20" y="663.17" width="8.50" height="83.43" fill="#f8b4b4" stroke="#000" stroke-width="1.45"/>
<rect x="1618.70" y="644.60" width="8.50" height="102.00" fill="#f8b4b4" stroke="#000" stroke-width="1.45"/>
<rect x="1627.20" y="683.74" width="8.50" height="62.86" fill="#c0f4b0" stroke="#000" stroke-width="1.45"/>
<rect x="1635.70" y="664.03" width="8.50" height="82.57" fill="#c0f4b0" stroke="#000" stroke-width="1.45"/>
<rect x="1644.20" y="666.31" width="8.50" height="80.29" fill="#c0f4b0" stroke="#000" stroke-width="1.45"/>
<rect x="1652.70" y="663.17" width="8.50" height="83.43" fill="#c0f4b0" stroke="#000" stroke-width="1.45"/>
<rect x="1661.20" y="640.89" width="8.50" height="105.71" fill="#c0f4b0" stroke="#000" stroke-width="1.45"/>
<rect x="1669.70" y="696.60" width="8.50" height="50.00" fill="#c0f4b0" stroke="#000" stroke-width="1.45"/>
<rect x="1678.20" y="666.31" width="8.50" height="80.29" fill="#c0f4b0" stroke="#000" stroke-width="1.45"/>
<rect x="1686.70" y="656.89" width="8.50" height="89.71" fill="#c0f4b0" stroke="#000" stroke-width="1.45"/>
<rect x="1695.20" y="668.03" width="8.50" height="78.57" fill="#c0f4b0" stroke="#000" stroke-width="1.45"/>
<rect x="1703.70" y="646.31" width="8.50" height="100.29" fill="#c0f4b0" stroke="#000" stroke-width="1.45"/>
<rect x="1712.20" y="665.17" width="8.50" height="81.43" fill="#f0f8b0" stroke="#000" stroke-width="1.45"/>
<rect x="1720.70" y="652.03" width="8.50" height="94.57" fill="#f0f8b0" stroke="#000" stroke-width="1.45"/>
<rect x="1729.20" y="646.31" width="8.50" height="100.29" fill="#f0f8b0" stroke="#000" stroke-width="1.45"/>
<rect x="1737.70" y="650.60" width="8.50" height="96.00" fill="#f0f8b0" stroke="#000" stroke-width="1.45"/>
<rect x="1746.20" y="654.60" width="8.50" height="92.00" fill="#f0f8b0" stroke="#000" stroke-width="1.45"/>
<rect x="1754.70" y="667.17" width="8.50" height="79.43" fill="#f0f8b0" stroke="#000" stroke-width="1.45"/>
<rect x="1763.20" y="680.60" width="8.50" height="66.00" fill="#f0f8b0" stroke="#000" stroke-width="1.45"/>
<rect x="1771.70" y="673.17" width="8.50" height="73.43" fill="#f0f8b0" stroke="#000" stroke-width="1.45"/>
<rect x="1780.20" y="684.60" width="8.50" height="62.00" fill="#f0f8b0" stroke="#000" stroke-width="1.45"/>
<rect x="1788.70" y="679.46" width="8.50" height="67.14" fill="#f0f8b0" stroke="#000" stroke-width="1.45"/>
<rect x="1797.20" y="591.74" width="8.50" height="154.86" fill="#c4f8e8" stroke="#000" stroke-width="1.45"/>
<rect x="1805.70" y="613.74" width="8.50" height="132.86" fill="#c4f8e8" stroke="#000" stroke-width="1.45"/>
<rect x="1814.20" y="610.03" width="8.50" height="136.57" fill="#c4f8e8" stroke="#000" stroke-width="1.45"/>
<rect x="1822.70" y="642.89" width="8.50" height="103.71" fill="#c4f8e8" stroke="#000" stroke-width="1.45"/>
<rect x="1831.20" y="671.74" width="8.50" height="74.86" fill="#c4f8e8" stroke="#000" stroke-width="1.45"/>
<rect x="1839.70" y="668.89" width="8.50" height="77.71" fill="#c4f8e8" stroke="#000" stroke-width="1.45"/>
<rect x="1848.20" y="712.89" width="8.50" height="33.71" fill="#c4f8e8" stroke="#000" stroke-width="1.45"/>
<rect x="1856.70" y="690.31" width="8.50" height="56.29" fill="#c4f8e8" stroke="#000" stroke-width="1.45"/>
<rect x="1865.20" y="734.31" width="8.50" height="12.29" fill="#c4f8e8" stroke="#000" stroke-width="1.45"/>
<rect x="1873.70" y="715.74" width="8.50" height="30.86" fill="#c4f8e8" stroke="#000" stroke-width="1.45"/>
<line x1="1444.20" y1="500.55" x2="1444.20" y2="747.40" stroke="#000" stroke-width="1.7" stroke-linecap="butt"/>
<line x1="1444.20" y1="746.60" x2="1428.70" y2="746.60" stroke="#000" stroke-width="1.7" stroke-linecap="butt"/>
<text x="1425.70" y="753.40" font-size="28" text-anchor="end" font-weight="normal" fill="#000" stroke="#000" stroke-width="0.45">0.00</text>
<line x1="1444.20" y1="664.85" x2="1428.70" y2="664.85" stroke="#000" stroke-width="1.7" stroke-linecap="butt"/>
<text x="1425.70" y="671.65" font-size="28" text-anchor="end" font-weight="normal" fill="#000" stroke="#000" stroke-width="0.45">0.05</text>
<line x1="1444.20" y1="583.10" x2="1428.70" y2="583.10" stroke="#000" stroke-width="1.7" stroke-linecap="butt"/>
<text x="1425.70" y="589.90" font-size="28" text-anchor="end" font-weight="normal" fill="#000" stroke="#000" stroke-width="0.45">0.10</text>
<line x1="1444.20" y1="501.35" x2="1428.70" y2="501.35" stroke="#000" stroke-width="1.7" stroke-linecap="butt"/>
<text x="1425.70" y="508.15" font-size="28" text-anchor="end" font-weight="normal" fill="#000" stroke="#000" stroke-width="0.45">0.15</text>
<line x1="1456.40" y1="758.80" x2="1883.00" y2="758.80" stroke="#000" stroke-width="1.7" stroke-linecap="butt"/>
<line x1="1457.20" y1="758.80" x2="1457.20" y2="773.30" stroke="#000" stroke-width="1.7" stroke-linecap="butt"/>
<text x="1457.20" y="804.20" font-size="28" text-anchor="middle" font-weight="normal" fill="#000" stroke="#000" stroke-width="0.45">0</text>
<line x1="1542.20" y1="758.80" x2="1542.20" y2="773.30" stroke="#000" stroke-width="1.7" stroke-linecap="butt"/>
<text x="1542.20" y="804.20" font-size="28" text-anchor="middle" font-weight="normal" fill="#000" stroke="#000" stroke-width="0.45">20</text>
<line x1="1627.20" y1="758.80" x2="1627.20" y2="773.30" stroke="#000" stroke-width="1.7" stroke-linecap="butt"/>
<text x="1627.20" y="804.20" font-size="28" text-anchor="middle" font-weight="normal" fill="#000" stroke="#000" stroke-width="0.45">40</text>
<line x1="1712.20" y1="758.80" x2="1712.20" y2="773.30" stroke="#000" stroke-width="1.7" stroke-linecap="butt"/>
<text x="1712.20" y="804.20" font-size="28" text-anchor="middle" font-weight="normal" fill="#000" stroke="#000" stroke-width="0.45">60</text>
<line x1="1797.20" y1="758.80" x2="1797.20" y2="773.30" stroke="#000" stroke-width="1.7" stroke-linecap="butt"/>
<text x="1797.20" y="804.20" font-size="28" text-anchor="middle" font-weight="normal" fill="#000" stroke="#000" stroke-width="0.45">80</text>
<line x1="1882.20" y1="758.80" x2="1882.20" y2="773.30" stroke="#000" stroke-width="1.7" stroke-linecap="butt"/>
<text x="1882.20" y="804.20" font-size="28" text-anchor="middle" font-weight="normal" fill="#000" stroke="#000" stroke-width="0.45">100</text>
<text x="1669.50" y="842.80" font-size="28" text-anchor="middle" font-weight="normal" fill="#000" stroke="#000" stroke-width="0.45">5mCpG percent</text>
<text x="1669.00" y="541.50" font-size="28" text-anchor="middle" font-weight="normal" fill="#000" stroke="#000" stroke-width="0.45">H3K27ac</text>
<text x="1350.00" y="623.98" font-size="28" text-anchor="middle" font-weight="normal" fill="#000" stroke="#000" stroke-width="0.45" transform="rotate(-90 1350.00 623.98)">Frequency</text>
</g>
<g id="panel-g">
<rect x="315.10" y="1175.06" width="8.50" height="15.14" fill="#c0f4b0" stroke="#000" stroke-width="1.45"/>
<rect x="323.60" y="1113.34" width="8.50" height="76.86" fill="#c0f4b0" stroke="#000" stroke-width="1.45"/>
<rect x="332.10" y="1129.34" width="8.50" height="60.86" fill="#c0f4b0" stroke="#000" stroke-width="1.45"/>
<rect x="340.60" y="1129.34" width="8.50" height="60.86" fill="#c0f4b0" stroke="#000" stroke-width="1.45"/>
<rect x="349.10" y="1129.34" width="8.50" height="60.86" fill="#c0f4b0" stroke="#000" stroke-width="1.45"/>
<rect x="357.60" y="1175.06" width="8.50" height="15.14" fill="#c0f4b0" stroke="#000" stroke-width="1.45"/>
<rect x="366.10" y="1082.49" width="8.50" height="107.71" fill="#c0f4b0" stroke="#000" stroke-width="1.45"/>
<rect x="374.60" y="1021.06" width="8.50" height="169.14" fill="#c0f4b0" stroke="#000" stroke-width="1.45"/>
<rect x="383.10" y="1098.20" width="8.50" height="92.00" fill="#c0f4b0" stroke="#000" stroke-width="1.45"/>
<rect x="391.60" y="1036.49" width="8.50" height="153.71" fill="#c0f4b0" stroke="#000" stroke-width="1.45"/>
<rect x="400.10" y="1150.20" width="8.50" height="40.00" fill="#f0f8b0" stroke="#000" stroke-width="1.45"/>
<rect x="408.60" y="1150.20" width="8.50" height="40.00" fill="#f0f8b0" stroke="#000" stroke-width="1.45"/>
<rect x="417.10" y="1145.34" width="8.50" height="44.86" fill="#f0f8b0" stroke="#000" stroke-width="1.45"/>
<rect x="425.60" y="1130.20" width="8.50" height="60.00" fill="#f0f8b0" stroke="#000" stroke-width="1.45"/>
<rect x="434.10" y="1094.77" width="8.50" height="95.43" fill="#f0f8b0" stroke="#000" stroke-width="1.45"/>
<rect x="442.60" y="1125.06" width="8.50" height="65.14" fill="#f0f8b0" stroke="#000" stroke-width="1.45"/>
<rect x="451.10" y="1084.77" width="8.50" height="105.43" fill="#f0f8b0" stroke="#000" stroke-width="1.45"/>
<rect x="459.60" y="1079.63" width="8.50" height="110.57" fill="#f0f8b0" stroke="#000" stroke-width="1.45"/>
<rect x="468.10" y="1069.63" width="8.50" height="120.57" fill="#f0f8b0" stroke="#000" stroke-width="1.45"/>
<rect x="476.60" y="1059.63" width="8.50" height="130.57" fill="#f0f8b0" stroke="#000" stroke-width="1.45"/>
<rect x="485.10" y="1095.34" width="8.50" height="94.86" fill="#c4f8e8" stroke="#000" stroke-width="1.45"/>
<rect x="493.60" y="1119.06" width="8.50" height="71.14" fill="#c4f8e8" stroke="#000" stroke-width="1.45"/>
<rect x="502.10" y="1091.63" width="8.50" height="98.57" fill="#c4f8e8" stroke="#000" stroke-width="1.45"/>
<rect x="510.60" y="1083.91" width="8.50" height="106.29" fill="#c4f8e8" stroke="#000" stroke-width="1.45"/>
<rect x="519.10" y="1123.34" width="8.50" height="66.86" fill="#c4f8e8" stroke="#000" stroke-width="1.45"/>
<rect x="527.60" y="1083.91" width="8.50" height="106.29" fill="#c4f8e8" stroke="#000" stroke-width="1.45"/>
<rect x="536.10" y="1126.77" width="8.50" height="63.43" fill="#c4f8e8" stroke="#000" stroke-width="1.45"/>
<rect x="544.60" y="1103.34" width="8.50" height="86.86" fill="#c4f8e8" stroke="#000" stroke-width="1.45"/>
<rect x="553.10" y="1135.06" width="8.50" height="55.14" fill="#c4f8e8" stroke="#000" stroke-width="1.45"/>
<rect x="561.60" y="1126.77" width="8.50" height="63.43" fill="#c4f8e8" stroke="#000" stroke-width="1.45"/>
<line x1="132.30" y1="944.00" x2="132.30" y2="1191.00" stroke="#000" stroke-width="1.7" stroke-linecap="butt"/>
<line x1="132.30" y1="1190.20" x2="116.80" y2="1190.20" stroke="#000" stroke-width="1.7" stroke-linecap="butt"/>
<text x="113.00" y="1199.00" font-size="28" text-anchor="end" font-weight="normal" fill="#000" stroke="#000" stroke-width="0.45">0.00</text>
<line x1="132.30" y1="1108.40" x2="116.80" y2="1108.40" stroke="#000" stroke-width="1.7" stroke-linecap="butt"/>
<text x="113.00" y="1117.20" font-size="28" text-anchor="end" font-weight="normal" fill="#000" stroke="#000" stroke-width="0.45">0.05</text>
<line x1="132.30" y1="1026.60" x2="116.80" y2="1026.60" stroke="#000" stroke-width="1.7" stroke-linecap="butt"/>
<text x="113.00" y="1035.40" font-size="28" text-anchor="end" font-weight="normal" fill="#000" stroke="#000" stroke-width="0.45">0.10</text>
<line x1="132.30" y1="944.80" x2="116.80" y2="944.80" stroke="#000" stroke-width="1.7" stroke-linecap="butt"/>
<text x="113.00" y="953.60" font-size="28" text-anchor="end" font-weight="normal" fill="#000" stroke="#000" stroke-width="0.45">0.15</text>
<line x1="144.30" y1="1202.60" x2="570.90" y2="1202.60" stroke="#000" stroke-width="1.7" stroke-linecap="butt"/>
<line x1="145.10" y1="1202.60" x2="145.10" y2="1217.10" stroke="#000" stroke-width="1.7" stroke-linecap="butt"/>
<text x="145.10" y="1248.10" font-size="28" text-anchor="middle" font-weight="normal" fill="#000" stroke="#000" stroke-width="0.45">0</text>
<line x1="230.10" y1="1202.60" x2="230.10" y2="1217.10" stroke="#000" stroke-width="1.7" stroke-linecap="butt"/>
<text x="230.10" y="1248.10" font-size="28" text-anchor="middle" font-weight="normal" fill="#000" stroke="#000" stroke-width="0.45">20</text>
<line x1="315.10" y1="1202.60" x2="315.10" y2="1217.10" stroke="#000" stroke-width="1.7" stroke-linecap="butt"/>
<text x="315.10" y="1248.10" font-size="28" text-anchor="middle" font-weight="normal" fill="#000" stroke="#000" stroke-width="0.45">40</text>
<line x1="400.10" y1="1202.60" x2="400.10" y2="1217.10" stroke="#000" stroke-width="1.7" stroke-linecap="butt"/>
<text x="400.10" y="1248.10" font-size="28" text-anchor="middle" font-weight="normal" fill="#000" stroke="#000" stroke-width="0.45">60</text>
<line x1="485.10" y1="1202.60" x2="485.10" y2="1217.10" stroke="#000" stroke-width="1.7" stroke-linecap="butt"/>
<text x="485.10" y="1248.10" font-size="28" text-anchor="middle" font-weight="normal" fill="#000" stroke="#000" stroke-width="0.45">80</text>
<line x1="570.10" y1="1202.60" x2="570.10" y2="1217.10" stroke="#000" stroke-width="1.7" stroke-linecap="butt"/>
<text x="570.10" y="1248.10" font-size="28" text-anchor="middle" font-weight="normal" fill="#000" stroke="#000" stroke-width="0.45">100</text>
<text x="357.30" y="1286.80" font-size="28" text-anchor="middle" font-weight="normal" fill="#000" stroke="#000" stroke-width="0.45">5mCpG percent</text>
<text x="356.90" y="985.00" font-size="28" text-anchor="middle" font-weight="normal" fill="#000" stroke="#000" stroke-width="0.45">H3K9me3</text>
<text x="37.00" y="1067.50" font-size="28" text-anchor="middle" font-weight="normal" fill="#000" stroke="#000" stroke-width="0.45" transform="rotate(-90 37.00 1067.50)">Frequency</text>
</g>
<g id="panel-h">
<rect x="805.90" y="892.29" width="8.51" height="297.71" fill="#b4c0f0" stroke="#000" stroke-width="1.45"/>
<rect x="814.41" y="1040.86" width="8.51" height="149.14" fill="#b4c0f0" stroke="#000" stroke-width="1.45"/>
<rect x="822.91" y="1083.43" width="8.51" height="106.57" fill="#b4c0f0" stroke="#000" stroke-width="1.45"/>
<rect x="831.42" y="1112.57" width="8.51" height="77.43" fill="#b4c0f0" stroke="#000" stroke-width="1.45"/>
<rect x="839.92" y="1136.86" width="8.51" height="53.14" fill="#b4c0f0" stroke="#000" stroke-width="1.45"/>
<rect x="848.43" y="1148.86" width="8.51" height="41.14" fill="#b4c0f0" stroke="#000" stroke-width="1.45"/>
<rect x="856.94" y="1160.57" width="8.51" height="29.43" fill="#b4c0f0" stroke="#000" stroke-width="1.45"/>
<rect x="865.44" y="1166.00" width="8.51" height="24.00" fill="#b4c0f0" stroke="#000" stroke-width="1.45"/>
<rect x="873.95" y="1171.43" width="8.51" height="18.57" fill="#b4c0f0" stroke="#000" stroke-width="1.45"/>
<rect x="882.45" y="1172.86" width="8.51" height="17.14" fill="#b4c0f0" stroke="#000" stroke-width="1.45"/>
<rect x="890.96" y="1072.29" width="8.51" height="117.71" fill="#f8b4b4" stroke="#000" stroke-width="1.45"/>
<rect x="899.47" y="1082.57" width="8.51" height="107.43" fill="#f8b4b4" stroke="#000" stroke-width="1.45"/>
<rect x="907.97" y="1096.57" width="8.51" height="93.43" fill="#f8b4b4" stroke="#000" stroke-width="1.45"/>
<rect x="916.48" y="1095.14" width="8.51" height="94.86" fill="#f8b4b4" stroke="#000" stroke-width="1.45"/>
<rect x="924.98" y="1104.57" width="8.51" height="85.43" fill="#f8b4b4" stroke="#000" stroke-width="1.45"/>
<rect x="933.49" y="1117.71" width="8.51" height="72.29" fill="#f8b4b4" stroke="#000" stroke-width="1.45"/>
<rect x="942.00" y="1111.43" width="8.51" height="78.57" fill="#f8b4b4" stroke="#000" stroke-width="1.45"/>
<rect x="950.50" y="1126.00" width="8.51" height="64.00" fill="#f8b4b4" stroke="#000" stroke-width="1.45"/>
<rect x="959.01" y="1147.43" width="8.51" height="42.57" fill="#f8b4b4" stroke="#000" stroke-width="1.45"/>
<rect x="967.51" y="1134.29" width="8.51" height="55.71" fill="#f8b4b4" stroke="#000" stroke-width="1.45"/>
<rect x="976.02" y="1079.14" width="8.51" height="110.86" fill="#c0f4b0" stroke="#000" stroke-width="1.45"/>
<rect x="984.53" y="1090.57" width="8.51" height="99.43" fill="#c0f4b0" stroke="#000" stroke-width="1.45"/>
<rect x="993.03" y="1098.00" width="8.51" height="92.00" fill="#c0f4b0" stroke="#000" stroke-width="1.45"/>
<rect x="1001.54" y="1103.71" width="8.51" height="86.29" fill="#c0f4b0" stroke="#000" stroke-width="1.45"/>
<rect x="1010.04" y="1074.00" width="8.51" height="116.00" fill="#c0f4b0" stroke="#000" stroke-width="1.45"/>
<rect x="1018.55" y="1132.86" width="8.51" height="57.14" fill="#c0f4b0" stroke="#000" stroke-width="1.45"/>
<rect x="1027.06" y="1134.86" width="8.51" height="55.14" fill="#c0f4b0" stroke="#000" stroke-width="1.45"/>
<rect x="1035.56" y="1116.29" width="8.51" height="73.71" fill="#c0f4b0" stroke="#000" stroke-width="1.45"/>
<rect x="1044.07" y="1138.57" width="8.51" height="51.43" fill="#c0f4b0" stroke="#000" stroke-width="1.45"/>
<rect x="1052.57" y="1120.00" width="8.51" height="70.00" fill="#c0f4b0" stroke="#000" stroke-width="1.45"/>
<rect x="1061.08" y="1082.00" width="8.51" height="108.00" fill="#f0f8b0" stroke="#000" stroke-width="1.45"/>
<rect x="1069.59" y="1115.14" width="8.51" height="74.86" fill="#f0f8b0" stroke="#000" stroke-width="1.45"/>
<rect x="1078.09" y="1100.57" width="8.51" height="89.43" fill="#f0f8b0" stroke="#000" stroke-width="1.45"/>
<rect x="1086.60" y="1115.14" width="8.51" height="74.86" fill="#f0f8b0" stroke="#000" stroke-width="1.45"/>
<rect x="1095.10" y="1081.71" width="8.51" height="108.29" fill="#f0f8b0" stroke="#000" stroke-width="1.45"/>
<rect x="1103.61" y="1096.00" width="8.51" height="94.00" fill="#f0f8b0" stroke="#000" stroke-width="1.45"/>
<rect x="1112.12" y="1124.29" width="8.51" height="65.71" fill="#f0f8b0" stroke="#000" stroke-width="1.45"/>
<rect x="1120.62" y="1128.86" width="8.51" height="61.14" fill="#f0f8b0" stroke="#000" stroke-width="1.45"/>
<rect x="1129.13" y="1124.29" width="8.51" height="65.71" fill="#f0f8b0" stroke="#000" stroke-width="1.45"/>
<rect x="1137.63" y="1119.71" width="8.51" height="70.29" fill="#f0f8b0" stroke="#000" stroke-width="1.45"/>
<rect x="1146.14" y="972.29" width="8.51" height="217.71" fill="#c4f8e8" stroke="#000" stroke-width="1.45"/>
<rect x="1154.65" y="1063.43" width="8.51" height="126.57" fill="#c4f8e8" stroke="#000" stroke-width="1.45"/>
<rect x="1163.15" y="1136.29" width="8.51" height="53.71" fill="#c4f8e8" stroke="#000" stroke-width="1.45"/>
<rect x="1171.66" y="1117.71" width="8.51" height="72.29" fill="#c4f8e8" stroke="#000" stroke-width="1.45"/>
<rect x="1180.16" y="1154.29" width="8.51" height="35.71" fill="#c4f8e8" stroke="#000" stroke-width="1.45"/>
<rect x="1188.67" y="1063.43" width="8.51" height="126.57" fill="#c4f8e8" stroke="#000" stroke-width="1.45"/>
<rect x="1197.18" y="1136.00" width="8.51" height="54.00" fill="#c4f8e8" stroke="#000" stroke-width="1.45"/>
<rect x="1205.68" y="1154.29" width="8.51" height="35.71" fill="#c4f8e8" stroke="#000" stroke-width="1.45"/>
<rect x="1214.19" y="1154.29" width="8.51" height="35.71" fill="#c4f8e8" stroke="#000" stroke-width="1.45"/>
<rect x="1222.69" y="1136.00" width="8.51" height="54.00" fill="#c4f8e8" stroke="#000" stroke-width="1.45"/>
<line x1="792.90" y1="944.10" x2="792.90" y2="1190.80" stroke="#000" stroke-width="1.7" stroke-linecap="butt"/>
<line x1="792.90" y1="1190.00" x2="777.40" y2="1190.00" stroke="#000" stroke-width="1.7" stroke-linecap="butt"/>
<text x="774.80" y="1198.80" font-size="28" text-anchor="end" font-weight="normal" fill="#000" stroke="#000" stroke-width="0.45">0.00</text>
<line x1="792.90" y1="1108.30" x2="777.40" y2="1108.30" stroke="#000" stroke-width="1.7" stroke-linecap="butt"/>
<text x="774.80" y="1117.10" font-size="28" text-anchor="end" font-weight="normal" fill="#000" stroke="#000" stroke-width="0.45">0.05</text>
<line x1="792.90" y1="1026.60" x2="777.40" y2="1026.60" stroke="#000" stroke-width="1.7" stroke-linecap="butt"/>
<text x="774.80" y="1035.40" font-size="28" text-anchor="end" font-weight="normal" fill="#000" stroke="#000" stroke-width="0.45">0.10</text>
<line x1="792.90" y1="944.90" x2="777.40" y2="944.90" stroke="#000" stroke-width="1.7" stroke-linecap="butt"/>
<text x="774.80" y="953.70" font-size="28" text-anchor="end" font-weight="normal" fill="#000" stroke="#000" stroke-width="0.45">0.15</text>
<line x1="805.10" y1="1202.60" x2="1232.00" y2="1202.60" stroke="#000" stroke-width="1.7" stroke-linecap="butt"/>
<line x1="805.90" y1="1202.60" x2="805.90" y2="1217.10" stroke="#000" stroke-width="1.7" stroke-linecap="butt"/>
<text x="805.90" y="1248.10" font-size="28" text-anchor="middle" font-weight="normal" fill="#000" stroke="#000" stroke-width="0.45">0</text>
<line x1="890.96" y1="1202.60" x2="890.96" y2="1217.10" stroke="#000" stroke-width="1.7" stroke-linecap="butt"/>
<text x="890.96" y="1248.10" font-size="28" text-anchor="middle" font-weight="normal" fill="#000" stroke="#000" stroke-width="0.45">20</text>
<line x1="976.02" y1="1202.60" x2="976.02" y2="1217.10" stroke="#000" stroke-width="1.7" stroke-linecap="butt"/>
<text x="976.02" y="1248.10" font-size="28" text-anchor="middle" font-weight="normal" fill="#000" stroke="#000" stroke-width="0.45">40</text>
<line x1="1061.08" y1="1202.60" x2="1061.08" y2="1217.10" stroke="#000" stroke-width="1.7" stroke-linecap="butt"/>
<text x="1061.08" y="1248.10" font-size="28" text-anchor="middle" font-weight="normal" fill="#000" stroke="#000" stroke-width="0.45">60</text>
<line x1="1146.14" y1="1202.60" x2="1146.14" y2="1217.10" stroke="#000" stroke-width="1.7" stroke-linecap="butt"/>
<text x="1146.14" y="1248.10" font-size="28" text-anchor="middle" font-weight="normal" fill="#000" stroke="#000" stroke-width="0.45">80</text>
<line x1="1231.20" y1="1202.60" x2="1231.20" y2="1217.10" stroke="#000" stroke-width="1.7" stroke-linecap="butt"/>
<text x="1231.20" y="1248.10" font-size="28" text-anchor="middle" font-weight="normal" fill="#000" stroke="#000" stroke-width="0.45">100</text>
<text x="1018.00" y="1286.80" font-size="28" text-anchor="middle" font-weight="normal" fill="#000" stroke="#000" stroke-width="0.45">5mCpG percent</text>
<text x="1018.00" y="985.00" font-size="28" text-anchor="middle" font-weight="normal" fill="#000" stroke="#000" stroke-width="0.45">H3K4me3</text>
<text x="699.00" y="1067.45" font-size="28" text-anchor="middle" font-weight="normal" fill="#000" stroke="#000" stroke-width="0.45" transform="rotate(-90 699.00 1067.45)">Frequency</text>
</g>
<g id="panel-i">
<rect x="1458.60" y="1167.06" width="8.50" height="23.14" fill="#b4c0f0" stroke="#000" stroke-width="1.45"/>
<rect x="1467.10" y="1147.34" width="8.50" height="42.86" fill="#b4c0f0" stroke="#000" stroke-width="1.45"/>
<rect x="1475.60" y="1132.20" width="8.50" height="58.00" fill="#b4c0f0" stroke="#000" stroke-width="1.45"/>
<rect x="1484.11" y="1114.20" width="8.50" height="76.00" fill="#b4c0f0" stroke="#000" stroke-width="1.45"/>
<rect x="1492.61" y="1092.20" width="8.50" height="98.00" fill="#b4c0f0" stroke="#000" stroke-width="1.45"/>
<rect x="1501.11" y="1093.06" width="8.50" height="97.14" fill="#b4c0f0" stroke="#000" stroke-width="1.45"/>
<rect x="1509.61" y="1084.49" width="8.50" height="105.71" fill="#b4c0f0" stroke="#000" stroke-width="1.45"/>
<rect x="1518.11" y="1088.20" width="8.50" height="102.00" fill="#b4c0f0" stroke="#000" stroke-width="1.45"/>
<rect x="1526.62" y="1092.77" width="8.50" height="97.43" fill="#b4c0f0" stroke="#000" stroke-width="1.45"/>
<rect x="1535.12" y="1077.06" width="8.50" height="113.14" fill="#b4c0f0" stroke="#000" stroke-width="1.45"/>
<rect x="1543.62" y="1126.49" width="8.50" height="63.71" fill="#f8b4b4" stroke="#000" stroke-width="1.45"/>
<rect x="1552.12" y="1119.63" width="8.50" height="70.57" fill="#f8b4b4" stroke="#000" stroke-width="1.45"/>
<rect x="1560.62" y="1121.06" width="8.50" height="69.14" fill="#f8b4b4" stroke="#000" stroke-width="1.45"/>
<rect x="1569.13" y="1114.49" width="8.50" height="75.71" fill="#f8b4b4" stroke="#000" stroke-width="1.45"/>
<rect x="1577.63" y="1113.06" width="8.50" height="77.14" fill="#f8b4b4" stroke="#000" stroke-width="1.45"/>
<rect x="1586.13" y="1115.91" width="8.50" height="74.29" fill="#f8b4b4" stroke="#000" stroke-width="1.45"/>
<rect x="1594.63" y="1110.77" width="8.50" height="79.43" fill="#f8b4b4" stroke="#000" stroke-width="1.45"/>
<rect x="1603.13" y="1091.91" width="8.50" height="98.29" fill="#f8b4b4" stroke="#000" stroke-width="1.45"/>
<rect x="1611.64" y="1097.06" width="8.50" height="93.14" fill="#f8b4b4" stroke="#000" stroke-width="1.45"/>
<rect x="1620.14" y="1078.20" width="8.50" height="112.00" fill="#f8b4b4" stroke="#000" stroke-width="1.45"/>
<rect x="1628.64" y="1137.34" width="8.50" height="52.86" fill="#c0f4b0" stroke="#000" stroke-width="1.45"/>
<rect x="1637.14" y="1126.49" width="8.50" height="63.71" fill="#c0f4b0" stroke="#000" stroke-width="1.45"/>
<rect x="1645.64" y="1117.63" width="8.50" height="72.57" fill="#c0f4b0" stroke="#000" stroke-width="1.45"/>
<rect x="1654.15" y="1114.49" width="8.50" height="75.71" fill="#c0f4b0" stroke="#000" stroke-width="1.45"/>
<rect x="1662.65" y="1091.34" width="8.50" height="98.86" fill="#c0f4b0" stroke="#000" stroke-width="1.45"/>
<rect x="1671.15" y="1130.77" width="8.50" height="59.43" fill="#c0f4b0" stroke="#000" stroke-width="1.45"/>
<rect x="1679.65" y="1107.06" width="8.50" height="83.14" fill="#c0f4b0" stroke="#000" stroke-width="1.45"/>
<rect x="1688.15" y="1091.34" width="8.50" height="98.86" fill="#c0f4b0" stroke="#000" stroke-width="1.45"/>
<rect x="1696.66" y="1097.91" width="8.50" height="92.29" fill="#c0f4b0" stroke="#000" stroke-width="1.45"/>
<rect x="1705.16" y="1074.77" width="8.50" height="115.43" fill="#c0f4b0" stroke="#000" stroke-width="1.45"/>
<rect x="1713.66" y="1109.34" width="8.50" height="80.86" fill="#f0f8b0" stroke="#000" stroke-width="1.45"/>
<rect x="1722.16" y="1095.06" width="8.50" height="95.14" fill="#f0f8b0" stroke="#000" stroke-width="1.45"/>
<rect x="1730.66" y="1093.34" width="8.50" height="96.86" fill="#f0f8b0" stroke="#000" stroke-width="1.45"/>
<rect x="1739.17" y="1097.06" width="8.50" height="93.14" fill="#f0f8b0" stroke="#000" stroke-width="1.45"/>
<rect x="1747.67" y="1097.34" width="8.50" height="92.86" fill="#f0f8b0" stroke="#000" stroke-width="1.45"/>
<rect x="1756.17" y="1108.49" width="8.50" height="81.71" fill="#f0f8b0" stroke="#000" stroke-width="1.45"/>
<rect x="1764.67" y="1118.20" width="8.50" height="72.00" fill="#f0f8b0" stroke="#000" stroke-width="1.45"/>
<rect x="1773.17" y="1116.49" width="8.50" height="73.71" fill="#f0f8b0" stroke="#000" stroke-width="1.45"/>
<rect x="1781.68" y="1125.91" width="8.50" height="64.29" fill="#f0f8b0" stroke="#000" stroke-width="1.45"/>
<rect x="1790.18" y="1127.63" width="8.50" height="62.57" fill="#f0f8b0" stroke="#000" stroke-width="1.45"/>
<rect x="1798.68" y="1015.34" width="8.50" height="174.86" fill="#c4f8e8" stroke="#000" stroke-width="1.45"/>
<rect x="1807.18" y="1032.49" width="8.50" height="157.71" fill="#c4f8e8" stroke="#000" stroke-width="1.45"/>
<rect x="1815.68" y="1055.34" width="8.50" height="134.86" fill="#c4f8e8" stroke="#000" stroke-width="1.45"/>
<rect x="1824.19" y="1075.63" width="8.50" height="114.57" fill="#c4f8e8" stroke="#000" stroke-width="1.45"/>
<rect x="1832.69" y="1122.77" width="8.50" height="67.43" fill="#c4f8e8" stroke="#000" stroke-width="1.45"/>
<rect x="1841.19" y="1121.91" width="8.50" height="68.29" fill="#c4f8e8" stroke="#000" stroke-width="1.45"/>
<rect x="1849.69" y="1163.34" width="8.50" height="26.86" fill="#c4f8e8" stroke="#000" stroke-width="1.45"/>
<rect x="1858.19" y="1147.34" width="8.50" height="42.86" fill="#c4f8e8" stroke="#000" stroke-width="1.45"/>
<rect x="1866.70" y="1179.63" width="8.50" height="10.57" fill="#c4f8e8" stroke="#000" stroke-width="1.45"/>
<rect x="1875.20" y="1174.49" width="8.50" height="15.71" fill="#c4f8e8" stroke="#000" stroke-width="1.45"/>
<line x1="1445.40" y1="944.00" x2="1445.40" y2="1191.00" stroke="#000" stroke-width="1.7" stroke-linecap="butt"/>
<line x1="1445.40" y1="1190.20" x2="1429.90" y2="1190.20" stroke="#000" stroke-width="1.7" stroke-linecap="butt"/>
<text x="1425.70" y="1199.00" font-size="28" text-anchor="end" font-weight="normal" fill="#000" stroke="#000" stroke-width="0.45">0.00</text>
<line x1="1445.40" y1="1108.40" x2="1429.90" y2="1108.40" stroke="#000" stroke-width="1.7" stroke-linecap="butt"/>
<text x="1425.70" y="1117.20" font-size="28" text-anchor="end" font-weight="normal" fill="#000" stroke="#000" stroke-width="0.45">0.05</text>
<line x1="1445.40" y1="1026.60" x2="1429.90" y2="1026.60" stroke="#000" stroke-width="1.7" stroke-linecap="butt"/>
<text x="1425.70" y="1035.40" font-size="28" text-anchor="end" font-weight="normal" fill="#000" stroke="#000" stroke-width="0.45">0.10</text>
<line x1="1445.40" y1="944.80" x2="1429.90" y2="944.80" stroke="#000" stroke-width="1.7" stroke-linecap="butt"/>
<text x="1425.70" y="953.60" font-size="28" text-anchor="end" font-weight="normal" fill="#000" stroke="#000" stroke-width="0.45">0.15</text>
<line x1="1457.80" y1="1202.60" x2="1884.50" y2="1202.60" stroke="#000" stroke-width="1.7" stroke-linecap="butt"/>
<line x1="1458.60" y1="1202.60" x2="1458.60" y2="1217.10" stroke="#000" stroke-width="1.7" stroke-linecap="butt"/>
<text x="1458.60" y="1248.10" font-size="28" text-anchor="middle" font-weight="normal" fill="#000" stroke="#000" stroke-width="0.45">0</text>
<line x1="1543.62" y1="1202.60" x2="1543.62" y2="1217.10" stroke="#000" stroke-width="1.7" stroke-linecap="butt"/>
<text x="1543.62" y="1248.10" font-size="28" text-anchor="middle" font-weight="normal" fill="#000" stroke="#000" stroke-width="0.45">20</text>
<line x1="1628.64" y1="1202.60" x2="1628.64" y2="1217.10" stroke="#000" stroke-width="1.7" stroke-linecap="butt"/>
<text x="1628.64" y="1248.10" font-size="28" text-anchor="middle" font-weight="normal" fill="#000" stroke="#000" stroke-width="0.45">40</text>
<line x1="1713.66" y1="1202.60" x2="1713.66" y2="1217.10" stroke="#000" stroke-width="1.7" stroke-linecap="butt"/>
<text x="1713.66" y="1248.10" font-size="28" text-anchor="middle" font-weight="normal" fill="#000" stroke="#000" stroke-width="0.45">60</text>
<line x1="1798.68" y1="1202.60" x2="1798.68" y2="1217.10" stroke="#000" stroke-width="1.7" stroke-linecap="butt"/>
<text x="1798.68" y="1248.10" font-size="28" text-anchor="middle" font-weight="normal" fill="#000" stroke="#000" stroke-width="0.45">80</text>
<line x1="1883.70" y1="1202.60" x2="1883.70" y2="1217.10" stroke="#000" stroke-width="1.7" stroke-linecap="butt"/>
<text x="1883.70" y="1248.10" font-size="28" text-anchor="middle" font-weight="normal" fill="#000" stroke="#000" stroke-width="0.45">100</text>
<text x="1670.70" y="1286.80" font-size="28" text-anchor="middle" font-weight="normal" fill="#000" stroke="#000" stroke-width="0.45">5mCpG percent</text>
<text x="1671.70" y="985.00" font-size="28" text-anchor="middle" font-weight="normal" fill="#000" stroke="#000" stroke-width="0.45">H3K4me1</text>
<text x="1350.00" y="1067.50" font-size="28" text-anchor="middle" font-weight="normal" fill="#000" stroke="#000" stroke-width="0.45" transform="rotate(-90 1350.00 1067.50)">Frequency</text>
</g>
<text x="11.00" y="49.60" font-size="47.5" text-anchor="start" font-weight="bold" fill="#16191d">a</text>
<text x="624.50" y="49.40" font-size="47.5" text-anchor="start" font-weight="bold" fill="#16191d">b</text>
<text x="1297.50" y="49.40" font-size="47.5" text-anchor="start" font-weight="bold" fill="#16191d">c</text>
<text x="10.50" y="470.60" font-size="47.5" text-anchor="start" font-weight="bold" fill="#16191d">d</text>
<text x="624.50" y="470.60" font-size="47.5" text-anchor="start" font-weight="bold" fill="#16191d">e</text>
<text x="1300.50" y="470.60" font-size="47.5" text-anchor="start" font-weight="bold" fill="#16191d">f</text>
<text x="10.50" y="904.50" font-size="47.5" text-anchor="start" font-weight="bold" fill="#16191d">g</text>
<text x="624.00" y="914.70" font-size="47.5" text-anchor="start" font-weight="bold" fill="#16191d">h</text>
<text x="1297.00" y="914.70" font-size="47.5" text-anchor="start" font-weight="bold" fill="#16191d">i</text>
<text x="14.00" y="1350.00" font-size="47.5" text-anchor="start" font-weight="bold" fill="#16191d">j</text>
<text x="754.50" y="1360.70" font-size="47.5" text-anchor="start" font-weight="bold" fill="#16191d">k</text>
<text x="1418.50" y="1360.70" font-size="47.5" text-anchor="start" font-weight="bold" fill="#16191d">l</text>
<text x="8.50" y="2120.80" font-size="47.5" text-anchor="start" font-weight="bold" fill="#16191d">m</text>
<g id="panel-j">
<rect x="145.70" y="1450.26" width="8.50" height="227.14" fill="#b4c0f0" stroke="#000" stroke-width="1.45"/>
<rect x="154.20" y="1612.83" width="8.50" height="64.57" fill="#b4c0f0" stroke="#000" stroke-width="1.45"/>
<rect x="162.70" y="1629.97" width="8.50" height="47.43" fill="#b4c0f0" stroke="#000" stroke-width="1.45"/>
<rect x="171.20" y="1638.54" width="8.50" height="38.86" fill="#b4c0f0" stroke="#000" stroke-width="1.45"/>
<rect x="179.70" y="1634.26" width="8.50" height="43.14" fill="#b4c0f0" stroke="#000" stroke-width="1.45"/>
<rect x="188.20" y="1643.40" width="8.50" height="34.00" fill="#b4c0f0" stroke="#000" stroke-width="1.45"/>
<rect x="196.70" y="1645.40" width="8.50" height="32.00" fill="#b4c0f0" stroke="#000" stroke-width="1.45"/>
<rect x="205.20" y="1641.40" width="8.50" height="36.00" fill="#b4c0f0" stroke="#000" stroke-width="1.45"/>
<rect x="213.70" y="1652.83" width="8.50" height="24.57" fill="#b4c0f0" stroke="#000" stroke-width="1.45"/>
<rect x="222.20" y="1641.69" width="8.50" height="35.71" fill="#b4c0f0" stroke="#000" stroke-width="1.45"/>
<rect x="230.70" y="1633.97" width="8.50" height="43.43" fill="#f8b4b4" stroke="#000" stroke-width="1.45"/>
<rect x="239.20" y="1609.40" width="8.50" height="68.00" fill="#f8b4b4" stroke="#000" stroke-width="1.45"/>
<rect x="247.70" y="1613.69" width="8.50" height="63.71" fill="#f8b4b4" stroke="#000" stroke-width="1.45"/>
<rect x="256.20" y="1618.83" width="8.50" height="58.57" fill="#f8b4b4" stroke="#000" stroke-width="1.45"/>
<rect x="264.70" y="1613.40" width="8.50" height="64.00" fill="#f8b4b4" stroke="#000" stroke-width="1.45"/>
<rect x="273.20" y="1627.11" width="8.50" height="50.29" fill="#f8b4b4" stroke="#000" stroke-width="1.45"/>
<rect x="281.70" y="1626.26" width="8.50" height="51.14" fill="#f8b4b4" stroke="#000" stroke-width="1.45"/>
<rect x="290.20" y="1610.54" width="8.50" height="66.86" fill="#f8b4b4" stroke="#000" stroke-width="1.45"/>
<rect x="298.70" y="1630.26" width="8.50" height="47.14" fill="#f8b4b4" stroke="#000" stroke-width="1.45"/>
<rect x="307.20" y="1605.97" width="8.50" height="71.43" fill="#f8b4b4" stroke="#000" stroke-width="1.45"/>
<rect x="315.70" y="1633.97" width="8.50" height="43.43" fill="#c0f4b0" stroke="#000" stroke-width="1.45"/>
<rect x="324.20" y="1615.69" width="8.50" height="61.71" fill="#c0f4b0" stroke="#000" stroke-width="1.45"/>
<rect x="332.70" y="1614.54" width="8.50" height="62.86" fill="#c0f4b0" stroke="#000" stroke-width="1.45"/>
<rect x="341.20" y="1618.83" width="8.50" height="58.57" fill="#c0f4b0" stroke="#000" stroke-width="1.45"/>
<rect x="349.70" y="1594.83" width="8.50" height="82.57" fill="#c0f4b0" stroke="#000" stroke-width="1.45"/>
<rect x="358.20" y="1647.40" width="8.50" height="30.00" fill="#c0f4b0" stroke="#000" stroke-width="1.45"/>
<rect x="366.70" y="1630.26" width="8.50" height="47.14" fill="#c0f4b0" stroke="#000" stroke-width="1.45"/>
<rect x="375.20" y="1602.54" width="8.50" height="74.86" fill="#c0f4b0" stroke="#000" stroke-width="1.45"/>
<rect x="383.70" y="1623.40" width="8.50" height="54.00" fill="#c0f4b0" stroke="#000" stroke-width="1.45"/>
<rect x="392.20" y="1608.54" width="8.50" height="68.86" fill="#c0f4b0" stroke="#000" stroke-width="1.45"/>
<rect x="400.70" y="1624.83" width="8.50" height="52.57" fill="#f0f8b0" stroke="#000" stroke-width="1.45"/>
<rect x="409.20" y="1594.54" width="8.50" height="82.86" fill="#f0f8b0" stroke="#000" stroke-width="1.45"/>
<rect x="417.70" y="1614.26" width="8.50" height="63.14" fill="#f0f8b0" stroke="#000" stroke-width="1.45"/>
<rect x="426.20" y="1617.11" width="8.50" height="60.29" fill="#f0f8b0" stroke="#000" stroke-width="1.45"/>
<rect x="434.70" y="1611.69" width="8.50" height="65.71" fill="#f0f8b0" stroke="#000" stroke-width="1.45"/>
<rect x="443.20" y="1623.11" width="8.50" height="54.29" fill="#f0f8b0" stroke="#000" stroke-width="1.45"/>
<rect x="451.70" y="1639.11" width="8.50" height="38.29" fill="#f0f8b0" stroke="#000" stroke-width="1.45"/>
<rect x="460.20" y="1617.97" width="8.50" height="59.43" fill="#f0f8b0" stroke="#000" stroke-width="1.45"/>
<rect x="468.70" y="1631.97" width="8.50" height="45.43" fill="#f0f8b0" stroke="#000" stroke-width="1.45"/>
<rect x="477.20" y="1616.26" width="8.50" height="61.14" fill="#f0f8b0" stroke="#000" stroke-width="1.45"/>
<rect x="485.70" y="1592.54" width="8.50" height="84.86" fill="#c4f8e8" stroke="#000" stroke-width="1.45"/>
<rect x="494.20" y="1605.97" width="8.50" height="71.43" fill="#c4f8e8" stroke="#000" stroke-width="1.45"/>
<rect x="502.70" y="1605.97" width="8.50" height="71.43" fill="#c4f8e8" stroke="#000" stroke-width="1.45"/>
<rect x="511.20" y="1613.11" width="8.50" height="64.29" fill="#c4f8e8" stroke="#000" stroke-width="1.45"/>
<rect x="519.70" y="1634.83" width="8.50" height="42.57" fill="#c4f8e8" stroke="#000" stroke-width="1.45"/>
<rect x="528.20" y="1608.26" width="8.50" height="69.14" fill="#c4f8e8" stroke="#000" stroke-width="1.45"/>
<rect x="536.70" y="1641.40" width="8.50" height="36.00" fill="#c4f8e8" stroke="#000" stroke-width="1.45"/>
<rect x="545.20" y="1612.26" width="8.50" height="65.14" fill="#c4f8e8" stroke="#000" stroke-width="1.45"/>
<rect x="553.70" y="1658.83" width="8.50" height="18.57" fill="#c4f8e8" stroke="#000" stroke-width="1.45"/>
<rect x="562.20" y="1617.97" width="8.50" height="59.43" fill="#c4f8e8" stroke="#000" stroke-width="1.45"/>
<rect x="145.70" y="1772.90" width="8.50" height="279.43" fill="#b4c0f0" stroke="#000" stroke-width="1.45"/>
<rect x="154.20" y="1772.90" width="8.50" height="71.14" fill="#b4c0f0" stroke="#000" stroke-width="1.45"/>
<rect x="162.70" y="1772.90" width="8.50" height="54.86" fill="#b4c0f0" stroke="#000" stroke-width="1.45"/>
<rect x="171.20" y="1772.90" width="8.50" height="36.57" fill="#b4c0f0" stroke="#000" stroke-width="1.45"/>
<rect x="179.70" y="1772.90" width="8.50" height="39.71" fill="#b4c0f0" stroke="#000" stroke-width="1.45"/>
<rect x="188.20" y="1772.90" width="8.50" height="25.71" fill="#b4c0f0" stroke="#000" stroke-width="1.45"/>
<rect x="196.70" y="1772.90" width="8.50" height="24.57" fill="#b4c0f0" stroke="#000" stroke-width="1.45"/>
<rect x="205.20" y="1772.90" width="8.50" height="22.86" fill="#b4c0f0" stroke="#000" stroke-width="1.45"/>
<rect x="213.70" y="1772.90" width="8.50" height="14.00" fill="#b4c0f0" stroke="#000" stroke-width="1.45"/>
<rect x="222.20" y="1772.90" width="8.50" height="16.86" fill="#b4c0f0" stroke="#000" stroke-width="1.45"/>
<rect x="230.70" y="1772.90" width="8.50" height="64.57" fill="#f8b4b4" stroke="#000" stroke-width="1.45"/>
<rect x="239.20" y="1772.90" width="8.50" height="82.00" fill="#f8b4b4" stroke="#000" stroke-width="1.45"/>
<rect x="247.70" y="1772.90" width="8.50" height="71.14" fill="#f8b4b4" stroke="#000" stroke-width="1.45"/>
<rect x="256.20" y="1772.90" width="8.50" height="54.29" fill="#f8b4b4" stroke="#000" stroke-width="1.45"/>
<rect x="264.70" y="1772.90" width="8.50" height="51.43" fill="#f8b4b4" stroke="#000" stroke-width="1.45"/>
<rect x="273.20" y="1772.90" width="8.50" height="60.86" fill="#f8b4b4" stroke="#000" stroke-width="1.45"/>
<rect x="281.70" y="1772.90" width="8.50" height="42.29" fill="#f8b4b4" stroke="#000" stroke-width="1.45"/>
<rect x="290.20" y="1772.90" width="8.50" height="62.57" fill="#f8b4b4" stroke="#000" stroke-width="1.45"/>
<rect x="298.70" y="1772.90" width="8.50" height="42.29" fill="#f8b4b4" stroke="#000" stroke-width="1.45"/>
<rect x="307.20" y="1772.90" width="8.50" height="54.57" fill="#f8b4b4" stroke="#000" stroke-width="1.45"/>
<rect x="315.70" y="1772.90" width="8.50" height="45.43" fill="#c0f4b0" stroke="#000" stroke-width="1.45"/>
<rect x="324.20" y="1772.90" width="8.50" height="51.43" fill="#c0f4b0" stroke="#000" stroke-width="1.45"/>
<rect x="332.70" y="1772.90" width="8.50" height="68.86" fill="#c0f4b0" stroke="#000" stroke-width="1.45"/>
<rect x="341.20" y="1772.90" width="8.50" height="62.57" fill="#c0f4b0" stroke="#000" stroke-width="1.45"/>
<rect x="349.70" y="1772.90" width="8.50" height="76.00" fill="#c0f4b0" stroke="#000" stroke-width="1.45"/>
<rect x="358.20" y="1772.90" width="8.50" height="24.00" fill="#c0f4b0" stroke="#000" stroke-width="1.45"/>
<rect x="366.70" y="1772.90" width="8.50" height="52.29" fill="#c0f4b0" stroke="#000" stroke-width="1.45"/>
<rect x="375.20" y="1772.90" width="8.50" height="80.86" fill="#c0f4b0" stroke="#000" stroke-width="1.45"/>
<rect x="383.70" y="1772.90" width="8.50" height="39.71" fill="#c0f4b0" stroke="#000" stroke-width="1.45"/>
<rect x="392.20" y="1772.90" width="8.50" height="81.71" fill="#c0f4b0" stroke="#000" stroke-width="1.45"/>
<rect x="400.70" y="1772.90" width="8.50" height="50.86" fill="#f0f8b0" stroke="#000" stroke-width="1.45"/>
<rect x="409.20" y="1772.90" width="8.50" height="87.43" fill="#f0f8b0" stroke="#000" stroke-width="1.45"/>
<rect x="417.70" y="1772.90" width="8.50" height="75.43" fill="#f0f8b0" stroke="#000" stroke-width="1.45"/>
<rect x="426.20" y="1772.90" width="8.50" height="53.14" fill="#f0f8b0" stroke="#000" stroke-width="1.45"/>
<rect x="434.70" y="1772.90" width="8.50" height="78.00" fill="#f0f8b0" stroke="#000" stroke-width="1.45"/>
<rect x="443.20" y="1772.90" width="8.50" height="43.14" fill="#f0f8b0" stroke="#000" stroke-width="1.45"/>
<rect x="451.70" y="1772.90" width="8.50" height="32.00" fill="#f0f8b0" stroke="#000" stroke-width="1.45"/>
<rect x="460.20" y="1772.90" width="8.50" height="54.86" fill="#f0f8b0" stroke="#000" stroke-width="1.45"/>
<rect x="468.70" y="1772.90" width="8.50" height="40.29" fill="#f0f8b0" stroke="#000" stroke-width="1.45"/>
<rect x="477.20" y="1772.90" width="8.50" height="68.00" fill="#f0f8b0" stroke="#000" stroke-width="1.45"/>
<rect x="485.70" y="1772.90" width="8.50" height="82.00" fill="#c4f8e8" stroke="#000" stroke-width="1.45"/>
<rect x="494.20" y="1772.90" width="8.50" height="84.86" fill="#c4f8e8" stroke="#000" stroke-width="1.45"/>
<rect x="502.70" y="1772.90" width="8.50" height="84.86" fill="#c4f8e8" stroke="#000" stroke-width="1.45"/>
<rect x="511.20" y="1772.90" width="8.50" height="71.14" fill="#c4f8e8" stroke="#000" stroke-width="1.45"/>
<rect x="519.70" y="1772.90" width="8.50" height="60.00" fill="#c4f8e8" stroke="#000" stroke-width="1.45"/>
<rect x="528.20" y="1772.90" width="8.50" height="56.86" fill="#c4f8e8" stroke="#000" stroke-width="1.45"/>
<rect x="536.70" y="1772.90" width="8.50" height="35.14" fill="#c4f8e8" stroke="#000" stroke-width="1.45"/>
<rect x="545.20" y="1772.90" width="8.50" height="35.14" fill="#c4f8e8" stroke="#000" stroke-width="1.45"/>
<rect x="553.70" y="1772.90" width="8.50" height="20.29" fill="#c4f8e8" stroke="#000" stroke-width="1.45"/>
<rect x="562.20" y="1772.90" width="8.50" height="52.86" fill="#c4f8e8" stroke="#000" stroke-width="1.45"/>
<line x1="132.60" y1="1382.25" x2="132.60" y2="1678.20" stroke="#000" stroke-width="1.7" stroke-linecap="butt"/>
<line x1="132.60" y1="1677.40" x2="117.10" y2="1677.40" stroke="#000" stroke-width="1.7" stroke-linecap="butt"/>
<text x="112.60" y="1684.20" font-size="28" text-anchor="end" font-weight="normal" fill="#000" stroke="#000" stroke-width="0.45">0.00</text>
<line x1="132.60" y1="1618.53" x2="117.10" y2="1618.53" stroke="#000" stroke-width="1.7" stroke-linecap="butt"/>
<line x1="132.60" y1="1559.66" x2="117.10" y2="1559.66" stroke="#000" stroke-width="1.7" stroke-linecap="butt"/>
<text x="112.60" y="1566.46" font-size="28" text-anchor="end" font-weight="normal" fill="#000" stroke="#000" stroke-width="0.45">0.10</text>
<line x1="132.60" y1="1500.79" x2="117.10" y2="1500.79" stroke="#000" stroke-width="1.7" stroke-linecap="butt"/>
<line x1="132.60" y1="1441.92" x2="117.10" y2="1441.92" stroke="#000" stroke-width="1.7" stroke-linecap="butt"/>
<text x="112.60" y="1448.72" font-size="28" text-anchor="end" font-weight="normal" fill="#000" stroke="#000" stroke-width="0.45">0.20</text>
<line x1="132.60" y1="1383.05" x2="117.10" y2="1383.05" stroke="#000" stroke-width="1.7" stroke-linecap="butt"/>
<line x1="132.60" y1="1772.10" x2="132.60" y2="2068.05" stroke="#000" stroke-width="1.7" stroke-linecap="butt"/>
<line x1="132.60" y1="1772.90" x2="117.10" y2="1772.90" stroke="#000" stroke-width="1.7" stroke-linecap="butt"/>
<text x="112.60" y="1779.70" font-size="28" text-anchor="end" font-weight="normal" fill="#000" stroke="#000" stroke-width="0.45">0.00</text>
<line x1="132.60" y1="1831.77" x2="117.10" y2="1831.77" stroke="#000" stroke-width="1.7" stroke-linecap="butt"/>
<line x1="132.60" y1="1890.64" x2="117.10" y2="1890.64" stroke="#000" stroke-width="1.7" stroke-linecap="butt"/>
<text x="112.60" y="1897.44" font-size="28" text-anchor="end" font-weight="normal" fill="#000" stroke="#000" stroke-width="0.45">0.10</text>
<line x1="132.60" y1="1949.51" x2="117.10" y2="1949.51" stroke="#000" stroke-width="1.7" stroke-linecap="butt"/>
<line x1="132.60" y1="2008.38" x2="117.10" y2="2008.38" stroke="#000" stroke-width="1.7" stroke-linecap="butt"/>
<text x="112.60" y="2015.18" font-size="28" text-anchor="end" font-weight="normal" fill="#000" stroke="#000" stroke-width="0.45">0.20</text>
<line x1="132.60" y1="2067.25" x2="117.10" y2="2067.25" stroke="#000" stroke-width="1.7" stroke-linecap="butt"/>
<line x1="144.90" y1="1689.80" x2="571.50" y2="1689.80" stroke="#000" stroke-width="1.7" stroke-linecap="butt"/>
<line x1="144.90" y1="1759.90" x2="571.50" y2="1759.90" stroke="#000" stroke-width="1.7" stroke-linecap="butt"/>
<line x1="145.70" y1="1689.80" x2="145.70" y2="1704.30" stroke="#000" stroke-width="1.7" stroke-linecap="butt"/>
<line x1="145.70" y1="1759.90" x2="145.70" y2="1745.90" stroke="#000" stroke-width="1.7" stroke-linecap="butt"/>
<text x="145.70" y="1734.80" font-size="28" text-anchor="middle" font-weight="normal" fill="#000" stroke="#000" stroke-width="0.45">0</text>
<line x1="230.70" y1="1689.80" x2="230.70" y2="1704.30" stroke="#000" stroke-width="1.7" stroke-linecap="butt"/>
<line x1="230.70" y1="1759.90" x2="230.70" y2="1745.90" stroke="#000" stroke-width="1.7" stroke-linecap="butt"/>
<text x="230.70" y="1734.80" font-size="28" text-anchor="middle" font-weight="normal" fill="#000" stroke="#000" stroke-width="0.45">20</text>
<line x1="315.70" y1="1689.80" x2="315.70" y2="1704.30" stroke="#000" stroke-width="1.7" stroke-linecap="butt"/>
<line x1="315.70" y1="1759.90" x2="315.70" y2="1745.90" stroke="#000" stroke-width="1.7" stroke-linecap="butt"/>
<text x="315.70" y="1734.80" font-size="28" text-anchor="middle" font-weight="normal" fill="#000" stroke="#000" stroke-width="0.45">40</text>
<line x1="400.70" y1="1689.80" x2="400.70" y2="1704.30" stroke="#000" stroke-width="1.7" stroke-linecap="butt"/>
<line x1="400.70" y1="1759.90" x2="400.70" y2="1745.90" stroke="#000" stroke-width="1.7" stroke-linecap="butt"/>
<text x="400.70" y="1734.80" font-size="28" text-anchor="middle" font-weight="normal" fill="#000" stroke="#000" stroke-width="0.45">60</text>
<line x1="485.70" y1="1689.80" x2="485.70" y2="1704.30" stroke="#000" stroke-width="1.7" stroke-linecap="butt"/>
<line x1="485.70" y1="1759.90" x2="485.70" y2="1745.90" stroke="#000" stroke-width="1.7" stroke-linecap="butt"/>
<text x="485.70" y="1734.80" font-size="28" text-anchor="middle" font-weight="normal" fill="#000" stroke="#000" stroke-width="0.45">80</text>
<line x1="570.70" y1="1689.80" x2="570.70" y2="1704.30" stroke="#000" stroke-width="1.7" stroke-linecap="butt"/>
<line x1="570.70" y1="1759.90" x2="570.70" y2="1745.90" stroke="#000" stroke-width="1.7" stroke-linecap="butt"/>
<text x="570.70" y="1734.80" font-size="28" text-anchor="middle" font-weight="normal" fill="#000" stroke="#000" stroke-width="0.45">100</text>
<text x="607.90" y="1714.50" font-size="28" text-anchor="start" font-weight="normal" fill="#000" stroke="#000" stroke-width="0.45">5mCpG</text>
<text x="608.00" y="1748.10" font-size="28" text-anchor="start" font-weight="normal" fill="#000" stroke="#000" stroke-width="0.45">percent</text>
<text x="359.00" y="1471.20" font-size="28" text-anchor="middle" font-weight="normal" fill="#000" stroke="#000" stroke-width="0.45">TET1 (C terminus)</text>
<text x="359.00" y="2007.70" font-size="28" text-anchor="middle" font-weight="normal" fill="#000" stroke="#000" stroke-width="0.45">TET1 (N terminus)</text>
<text x="37.00" y="1531.00" font-size="28" text-anchor="middle" font-weight="normal" fill="#000" stroke="#000" stroke-width="0.45" transform="rotate(-90 37.00 1531.00)">Frequency</text>
<text x="37.00" y="1920.60" font-size="28" text-anchor="middle" font-weight="normal" fill="#000" stroke="#000" stroke-width="0.45" transform="rotate(-90 37.00 1920.60)">Frequency</text>
</g>
<g id="panel-k">
<rect x="909.3" y="1419.3" width="434.79999999999995" height="418.5" fill="#fff"/>
<line x1="909.30" y1="1771.51" x2="1344.10" y2="1771.51" stroke="#ecefef" stroke-width="1.0" stroke-linecap="butt"/>
<line x1="909.30" y1="1676.14" x2="1344.10" y2="1676.14" stroke="#ecefef" stroke-width="1.0" stroke-linecap="butt"/>
<line x1="909.30" y1="1580.76" x2="1344.10" y2="1580.76" stroke="#ecefef" stroke-width="1.0" stroke-linecap="butt"/>
<line x1="909.30" y1="1485.39" x2="1344.10" y2="1485.39" stroke="#ecefef" stroke-width="1.0" stroke-linecap="butt"/>
<line x1="909.30" y1="1819.20" x2="1344.10" y2="1819.20" stroke="#ecefef" stroke-width="1.7" stroke-linecap="butt"/>
<line x1="909.30" y1="1723.83" x2="1344.10" y2="1723.83" stroke="#ecefef" stroke-width="1.7" stroke-linecap="butt"/>
<line x1="909.30" y1="1628.45" x2="1344.10" y2="1628.45" stroke="#ecefef" stroke-width="1.7" stroke-linecap="butt"/>
<line x1="909.30" y1="1533.08" x2="1344.10" y2="1533.08" stroke="#ecefef" stroke-width="1.7" stroke-linecap="butt"/>
<line x1="909.30" y1="1437.70" x2="1344.10" y2="1437.70" stroke="#ecefef" stroke-width="1.7" stroke-linecap="butt"/>
<line x1="934.30" y1="1419.30" x2="934.30" y2="1837.80" stroke="#ecefef" stroke-width="1.7" stroke-linecap="butt"/>
<line x1="977.08" y1="1419.30" x2="977.08" y2="1837.80" stroke="#ecefef" stroke-width="1.7" stroke-linecap="butt"/>
<line x1="1019.86" y1="1419.30" x2="1019.86" y2="1837.80" stroke="#ecefef" stroke-width="1.7" stroke-linecap="butt"/>
<line x1="1062.64" y1="1419.30" x2="1062.64" y2="1837.80" stroke="#ecefef" stroke-width="1.7" stroke-linecap="butt"/>
<line x1="1105.42" y1="1419.30" x2="1105.42" y2="1837.80" stroke="#ecefef" stroke-width="1.7" stroke-linecap="butt"/>
<line x1="1148.20" y1="1419.30" x2="1148.20" y2="1837.80" stroke="#ecefef" stroke-width="1.7" stroke-linecap="butt"/>
<line x1="1190.98" y1="1419.30" x2="1190.98" y2="1837.80" stroke="#ecefef" stroke-width="1.7" stroke-linecap="butt"/>
<line x1="1233.76" y1="1419.30" x2="1233.76" y2="1837.80" stroke="#ecefef" stroke-width="1.7" stroke-linecap="butt"/>
<line x1="1276.54" y1="1419.30" x2="1276.54" y2="1837.80" stroke="#ecefef" stroke-width="1.7" stroke-linecap="butt"/>
<line x1="1319.32" y1="1419.30" x2="1319.32" y2="1837.80" stroke="#ecefef" stroke-width="1.7" stroke-linecap="butt"/>
<line x1="917.80" y1="1819.20" x2="950.80" y2="1819.20" stroke="#3b4346" stroke-width="1.5" stroke-linecap="butt"/>
<circle cx="934.30" cy="1437.70" r="4.4" fill="#29312f"/>
<circle cx="934.30" cy="1564.74" r="4.4" fill="#29312f"/>
<circle cx="934.30" cy="1628.45" r="4.4" fill="#29312f"/>
<circle cx="934.30" cy="1666.60" r="4.4" fill="#29312f"/>
<circle cx="934.30" cy="1692.16" r="4.4" fill="#29312f"/>
<circle cx="934.30" cy="1723.83" r="4.4" fill="#29312f"/>
<circle cx="934.30" cy="1742.90" r="4.4" fill="#29312f"/>
<circle cx="934.30" cy="1755.49" r="4.4" fill="#29312f"/>
<circle cx="934.30" cy="1774.56" r="4.4" fill="#29312f"/>
<circle cx="934.30" cy="1792.11" r="4.4" fill="#29312f"/>
<circle cx="934.30" cy="1796.31" r="4.4" fill="#29312f"/>
<circle cx="934.30" cy="1800.12" r="4.4" fill="#29312f"/>
<circle cx="934.30" cy="1804.70" r="4.4" fill="#29312f"/>
<circle cx="934.30" cy="1808.52" r="4.4" fill="#29312f"/>
<circle cx="934.30" cy="1811.95" r="4.4" fill="#29312f"/>
<circle cx="934.30" cy="1814.24" r="4.4" fill="#29312f"/>
<circle cx="934.30" cy="1802.41" r="4.2" fill="#2f62ea"/>
<rect x="960.78" y="1801.84" width="32.6" height="1.34" fill="#fff" stroke="#3b4346" stroke-width="1.2"/>
<line x1="960.78" y1="1802.57" x2="993.38" y2="1802.57" stroke="#3b4346" stroke-width="2.2" stroke-linecap="butt"/>
<circle cx="977.08" cy="1800.51" r="4.4" fill="#29312f"/>
<circle cx="977.08" cy="1804.70" r="4.4" fill="#29312f"/>
<circle cx="977.08" cy="1802.80" r="4.2" fill="#2f62ea"/>
<line x1="1003.36" y1="1819.20" x2="1036.36" y2="1819.20" stroke="#3b4346" stroke-width="1.5" stroke-linecap="butt"/>
<circle cx="1019.86" cy="1437.70" r="4.4" fill="#29312f"/>
<circle cx="1019.86" cy="1564.74" r="4.4" fill="#29312f"/>
<circle cx="1019.86" cy="1628.45" r="4.4" fill="#29312f"/>
<circle cx="1019.86" cy="1666.60" r="4.4" fill="#29312f"/>
<circle cx="1019.86" cy="1692.16" r="4.4" fill="#29312f"/>
<circle cx="1019.86" cy="1723.83" r="4.4" fill="#29312f"/>
<circle cx="1019.86" cy="1742.90" r="4.4" fill="#29312f"/>
<circle cx="1019.86" cy="1794.02" r="4.2" fill="#2f62ea"/>
<rect x="1046.34" y="1792.88" width="32.6" height="2.29" fill="#fff" stroke="#3b4346" stroke-width="1.2"/>
<line x1="1046.34" y1="1794.02" x2="1078.94" y2="1794.02" stroke="#3b4346" stroke-width="2.2" stroke-linecap="butt"/>
<circle cx="1062.64" cy="1790.21" r="4.4" fill="#29312f"/>
<circle cx="1062.64" cy="1798.22" r="4.4" fill="#29312f"/>
<circle cx="1062.64" cy="1794.02" r="4.2" fill="#2f62ea"/>
<line x1="1088.92" y1="1819.20" x2="1121.92" y2="1819.20" stroke="#3b4346" stroke-width="1.5" stroke-linecap="butt"/>
<circle cx="1105.42" cy="1437.70" r="4.4" fill="#29312f"/>
<circle cx="1105.42" cy="1564.74" r="4.4" fill="#29312f"/>
<circle cx="1105.42" cy="1628.45" r="4.4" fill="#29312f"/>
<circle cx="1105.42" cy="1692.16" r="4.4" fill="#29312f"/>
<circle cx="1105.42" cy="1723.83" r="4.4" fill="#29312f"/>
<circle cx="1105.42" cy="1742.90" r="4.4" fill="#29312f"/>
<circle cx="1105.42" cy="1755.49" r="4.4" fill="#29312f"/>
<circle cx="1105.42" cy="1764.26" r="4.4" fill="#29312f"/>
<circle cx="1105.42" cy="1767.32" r="4.4" fill="#29312f"/>
<circle cx="1105.42" cy="1771.89" r="4.4" fill="#29312f"/>
<circle cx="1105.42" cy="1774.95" r="4.4" fill="#29312f"/>
<circle cx="1105.42" cy="1778.76" r="4.4" fill="#29312f"/>
<circle cx="1105.42" cy="1782.58" r="4.4" fill="#29312f"/>
<circle cx="1105.42" cy="1786.77" r="4.4" fill="#29312f"/>
<circle cx="1105.42" cy="1790.21" r="4.4" fill="#29312f"/>
<circle cx="1105.42" cy="1800.51" r="4.4" fill="#29312f"/>
<circle cx="1105.42" cy="1804.32" r="4.4" fill="#29312f"/>
<circle cx="1105.42" cy="1809.28" r="4.4" fill="#29312f"/>
<circle cx="1105.42" cy="1795.55" r="4.2" fill="#2f62ea"/>
<rect x="1131.90" y="1794.78" width="32.6" height="1.91" fill="#fff" stroke="#3b4346" stroke-width="1.2"/>
<line x1="1131.90" y1="1795.93" x2="1164.50" y2="1795.93" stroke="#3b4346" stroke-width="2.2" stroke-linecap="butt"/>
<circle cx="1148.20" cy="1792.88" r="4.4" fill="#29312f"/>
<circle cx="1148.20" cy="1798.98" r="4.4" fill="#29312f"/>
<circle cx="1148.20" cy="1795.93" r="4.2" fill="#2f62ea"/>
<line x1="1174.48" y1="1819.20" x2="1207.48" y2="1819.20" stroke="#3b4346" stroke-width="1.5" stroke-linecap="butt"/>
<circle cx="1190.98" cy="1437.70" r="4.4" fill="#29312f"/>
<circle cx="1190.98" cy="1564.74" r="4.4" fill="#29312f"/>
<circle cx="1190.98" cy="1628.45" r="4.4" fill="#29312f"/>
<circle cx="1190.98" cy="1655.54" r="4.4" fill="#29312f"/>
<circle cx="1190.98" cy="1666.60" r="4.4" fill="#29312f"/>
<circle cx="1190.98" cy="1692.16" r="4.4" fill="#29312f"/>
<circle cx="1190.98" cy="1723.83" r="4.4" fill="#29312f"/>
<circle cx="1190.98" cy="1742.90" r="4.4" fill="#29312f"/>
<circle cx="1190.98" cy="1755.49" r="4.4" fill="#29312f"/>
<circle cx="1190.98" cy="1764.26" r="4.4" fill="#29312f"/>
<circle cx="1190.98" cy="1777.24" r="4.4" fill="#29312f"/>
<circle cx="1190.98" cy="1784.87" r="4.4" fill="#29312f"/>
<circle cx="1190.98" cy="1797.45" r="4.2" fill="#2f62ea"/>
<rect x="1217.46" y="1797.07" width="32.6" height="1.53" fill="#fff" stroke="#3b4346" stroke-width="1.2"/>
<line x1="1217.46" y1="1797.84" x2="1250.06" y2="1797.84" stroke="#3b4346" stroke-width="2.2" stroke-linecap="butt"/>
<circle cx="1233.76" cy="1795.93" r="4.4" fill="#29312f"/>
<circle cx="1233.76" cy="1800.51" r="4.4" fill="#29312f"/>
<circle cx="1233.76" cy="1797.84" r="4.2" fill="#2f62ea"/>
<line x1="1260.04" y1="1819.20" x2="1293.04" y2="1819.20" stroke="#3b4346" stroke-width="1.5" stroke-linecap="butt"/>
<circle cx="1276.54" cy="1437.70" r="4.4" fill="#29312f"/>
<circle cx="1276.54" cy="1564.74" r="4.4" fill="#29312f"/>
<circle cx="1276.54" cy="1628.45" r="4.4" fill="#29312f"/>
<circle cx="1276.54" cy="1666.60" r="4.4" fill="#29312f"/>
<circle cx="1276.54" cy="1692.16" r="4.4" fill="#29312f"/>
<circle cx="1276.54" cy="1723.83" r="4.4" fill="#29312f"/>
<circle cx="1276.54" cy="1742.90" r="4.4" fill="#29312f"/>
<circle cx="1276.54" cy="1755.49" r="4.4" fill="#29312f"/>
<circle cx="1276.54" cy="1764.26" r="4.4" fill="#29312f"/>
<circle cx="1276.54" cy="1770.37" r="4.4" fill="#29312f"/>
<circle cx="1276.54" cy="1776.85" r="4.4" fill="#29312f"/>
<circle cx="1276.54" cy="1818.06" r="4.4" fill="#29312f"/>
<circle cx="1276.54" cy="1816.15" r="4.4" fill="#29312f"/>
<circle cx="1276.54" cy="1814.24" r="4.4" fill="#29312f"/>
<circle cx="1276.54" cy="1812.33" r="4.4" fill="#29312f"/>
<circle cx="1276.54" cy="1810.43" r="4.4" fill="#29312f"/>
<circle cx="1276.54" cy="1808.52" r="4.4" fill="#29312f"/>
<circle cx="1276.54" cy="1806.61" r="4.4" fill="#29312f"/>
<circle cx="1276.54" cy="1804.70" r="4.4" fill="#29312f"/>
<circle cx="1276.54" cy="1802.80" r="4.4" fill="#29312f"/>
<circle cx="1276.54" cy="1800.89" r="4.4" fill="#29312f"/>
<circle cx="1276.54" cy="1798.98" r="4.4" fill="#29312f"/>
<circle cx="1276.54" cy="1797.07" r="4.4" fill="#29312f"/>
<circle cx="1276.54" cy="1795.17" r="4.4" fill="#29312f"/>
<circle cx="1276.54" cy="1801.27" r="4.2" fill="#2f62ea"/>
<rect x="1303.02" y="1801.46" width="32.6" height="1.34" fill="#fff" stroke="#3b4346" stroke-width="1.2"/>
<line x1="1303.02" y1="1802.03" x2="1335.62" y2="1802.03" stroke="#3b4346" stroke-width="2.2" stroke-linecap="butt"/>
<circle cx="1319.32" cy="1800.12" r="4.4" fill="#29312f"/>
<circle cx="1319.32" cy="1804.70" r="4.4" fill="#29312f"/>
<circle cx="1319.32" cy="1802.41" r="4.2" fill="#2f62ea"/>
<rect x="909.3" y="1419.3" width="434.79999999999995" height="418.5" fill="none" stroke="#3b4346" stroke-width="1.7"/>
<line x1="934.30" y1="1837.80" x2="934.30" y2="1844.30" stroke="#3b4346" stroke-width="1.8" stroke-linecap="butt"/>
<line x1="977.08" y1="1837.80" x2="977.08" y2="1844.30" stroke="#3b4346" stroke-width="1.8" stroke-linecap="butt"/>
<line x1="1019.86" y1="1837.80" x2="1019.86" y2="1844.30" stroke="#3b4346" stroke-width="1.8" stroke-linecap="butt"/>
<line x1="1062.64" y1="1837.80" x2="1062.64" y2="1844.30" stroke="#3b4346" stroke-width="1.8" stroke-linecap="butt"/>
<line x1="1105.42" y1="1837.80" x2="1105.42" y2="1844.30" stroke="#3b4346" stroke-width="1.8" stroke-linecap="butt"/>
<line x1="1148.20" y1="1837.80" x2="1148.20" y2="1844.30" stroke="#3b4346" stroke-width="1.8" stroke-linecap="butt"/>
<line x1="1190.98" y1="1837.80" x2="1190.98" y2="1844.30" stroke="#3b4346" stroke-width="1.8" stroke-linecap="butt"/>
<line x1="1233.76" y1="1837.80" x2="1233.76" y2="1844.30" stroke="#3b4346" stroke-width="1.8" stroke-linecap="butt"/>
<line x1="1276.54" y1="1837.80" x2="1276.54" y2="1844.30" stroke="#3b4346" stroke-width="1.8" stroke-linecap="butt"/>
<line x1="1319.32" y1="1837.80" x2="1319.32" y2="1844.30" stroke="#3b4346" stroke-width="1.8" stroke-linecap="butt"/>
<line x1="903.30" y1="1819.20" x2="909.30" y2="1819.20" stroke="#3b4346" stroke-width="1.8" stroke-linecap="butt"/>
<text x="869.70" y="1826.30" font-size="28" text-anchor="middle" font-weight="normal" fill="#000" stroke="#000" stroke-width="0.45">0</text>
<line x1="903.30" y1="1723.83" x2="909.30" y2="1723.83" stroke="#3b4346" stroke-width="1.8" stroke-linecap="butt"/>
<text x="869.70" y="1730.92" font-size="28" text-anchor="middle" font-weight="normal" fill="#000" stroke="#000" stroke-width="0.45">25</text>
<line x1="903.30" y1="1628.45" x2="909.30" y2="1628.45" stroke="#3b4346" stroke-width="1.8" stroke-linecap="butt"/>
<text x="869.70" y="1635.55" font-size="28" text-anchor="middle" font-weight="normal" fill="#000" stroke="#000" stroke-width="0.45">50</text>
<line x1="903.30" y1="1533.08" x2="909.30" y2="1533.08" stroke="#3b4346" stroke-width="1.8" stroke-linecap="butt"/>
<text x="869.70" y="1540.17" font-size="28" text-anchor="middle" font-weight="normal" fill="#000" stroke="#000" stroke-width="0.45">75</text>
<line x1="903.30" y1="1437.70" x2="909.30" y2="1437.70" stroke="#3b4346" stroke-width="1.8" stroke-linecap="butt"/>
<text x="869.70" y="1444.80" font-size="28" text-anchor="middle" font-weight="normal" fill="#000" stroke="#000" stroke-width="0.45">100</text>
<text x="934.30" y="1871.30" font-size="28" text-anchor="middle" font-weight="normal" fill="#000" stroke="#000" stroke-width="0.45">I</text>
<text x="977.08" y="1871.30" font-size="28" text-anchor="middle" font-weight="normal" fill="#000" stroke="#000" stroke-width="0.45">M</text>
<text x="1019.86" y="1871.30" font-size="28" text-anchor="middle" font-weight="normal" fill="#000" stroke="#000" stroke-width="0.45">I</text>
<text x="1062.64" y="1871.30" font-size="28" text-anchor="middle" font-weight="normal" fill="#000" stroke="#000" stroke-width="0.45">M</text>
<text x="1105.42" y="1871.30" font-size="28" text-anchor="middle" font-weight="normal" fill="#000" stroke="#000" stroke-width="0.45">I</text>
<text x="1148.20" y="1871.30" font-size="28" text-anchor="middle" font-weight="normal" fill="#000" stroke="#000" stroke-width="0.45">M</text>
<text x="1190.98" y="1871.30" font-size="28" text-anchor="middle" font-weight="normal" fill="#000" stroke="#000" stroke-width="0.45">I</text>
<text x="1233.76" y="1871.30" font-size="28" text-anchor="middle" font-weight="normal" fill="#000" stroke="#000" stroke-width="0.45">M</text>
<text x="1276.54" y="1871.30" font-size="28" text-anchor="middle" font-weight="normal" fill="#000" stroke="#000" stroke-width="0.45">I</text>
<text x="1319.32" y="1871.30" font-size="28" text-anchor="middle" font-weight="normal" fill="#000" stroke="#000" stroke-width="0.45">M</text>
<line x1="925.90" y1="1881.30" x2="987.70" y2="1881.30" stroke="#7d7d7d" stroke-width="1.3" stroke-linecap="butt"/>
<line x1="1010.30" y1="1881.30" x2="1072.20" y2="1881.30" stroke="#7d7d7d" stroke-width="1.3" stroke-linecap="butt"/>
<line x1="1095.60" y1="1881.30" x2="1157.40" y2="1881.30" stroke="#7d7d7d" stroke-width="1.3" stroke-linecap="butt"/>
<line x1="1183.30" y1="1881.30" x2="1245.40" y2="1881.30" stroke="#7d7d7d" stroke-width="1.3" stroke-linecap="butt"/>
<line x1="1268.30" y1="1881.30" x2="1330.40" y2="1881.30" stroke="#7d7d7d" stroke-width="1.3" stroke-linecap="butt"/>
<text x="956.40" y="1911.40" font-size="28" text-anchor="middle" font-weight="normal" fill="#000" stroke="#000" stroke-width="0.45">20</text>
<text x="1040.80" y="1911.40" font-size="28" text-anchor="middle" font-weight="normal" fill="#000" stroke="#000" stroke-width="0.45">40</text>
<text x="1126.10" y="1911.40" font-size="28" text-anchor="middle" font-weight="normal" fill="#000" stroke="#000" stroke-width="0.45">60</text>
<text x="1213.30" y="1911.40" font-size="28" text-anchor="middle" font-weight="normal" fill="#000" stroke="#000" stroke-width="0.45">80</text>
<text x="1299.90" y="1911.40" font-size="28" text-anchor="middle" font-weight="normal" fill="#000" stroke="#000" stroke-width="0.45">100</text>
<text x="1126.80" y="1944.00" font-size="28" text-anchor="middle" font-weight="normal" fill="#000" stroke="#000" stroke-width="0.45">5mCpG percent</text>
<circle cx="1010.7" cy="1937.2" r="0.8" fill="#8a8a8a"/>
<text x="1127.90" y="1403.80" font-size="28" text-anchor="middle" font-weight="normal" fill="#000" stroke="#000" stroke-width="0.45">All 1kb bins</text>
<text x="797.20" y="1628.40" font-size="28" text-anchor="middle" font-weight="normal" fill="#000" stroke="#000" stroke-width="0.45" transform="rotate(-90 797.20 1628.40)">% 5hmC on interrogated strand</text>
<text x="829.60" y="1628.40" font-size="28" text-anchor="middle" font-weight="normal" fill="#000" stroke="#000" stroke-width="0.45" transform="rotate(-90 829.60 1628.40)">of dyad</text>
</g>
<g id="panel-l">
<rect x="1566.5" y="1418.9" width="435.4000000000001" height="418.89999999999986" fill="#fff"/>
<line x1="1566.50" y1="1771.20" x2="2001.90" y2="1771.20" stroke="#ecefef" stroke-width="1.0" stroke-linecap="butt"/>
<line x1="1566.50" y1="1675.80" x2="2001.90" y2="1675.80" stroke="#ecefef" stroke-width="1.0" stroke-linecap="butt"/>
<line x1="1566.50" y1="1580.40" x2="2001.90" y2="1580.40" stroke="#ecefef" stroke-width="1.0" stroke-linecap="butt"/>
<line x1="1566.50" y1="1485.00" x2="2001.90" y2="1485.00" stroke="#ecefef" stroke-width="1.0" stroke-linecap="butt"/>
<line x1="1566.50" y1="1818.90" x2="2001.90" y2="1818.90" stroke="#ecefef" stroke-width="1.7" stroke-linecap="butt"/>
<line x1="1566.50" y1="1723.50" x2="2001.90" y2="1723.50" stroke="#ecefef" stroke-width="1.7" stroke-linecap="butt"/>
<line x1="1566.50" y1="1628.10" x2="2001.90" y2="1628.10" stroke="#ecefef" stroke-width="1.7" stroke-linecap="butt"/>
<line x1="1566.50" y1="1532.70" x2="2001.90" y2="1532.70" stroke="#ecefef" stroke-width="1.7" stroke-linecap="butt"/>
<line x1="1566.50" y1="1437.30" x2="2001.90" y2="1437.30" stroke="#ecefef" stroke-width="1.7" stroke-linecap="butt"/>
<line x1="1591.70" y1="1418.90" x2="1591.70" y2="1837.80" stroke="#ecefef" stroke-width="1.7" stroke-linecap="butt"/>
<line x1="1634.40" y1="1418.90" x2="1634.40" y2="1837.80" stroke="#ecefef" stroke-width="1.7" stroke-linecap="butt"/>
<line x1="1677.10" y1="1418.90" x2="1677.10" y2="1837.80" stroke="#ecefef" stroke-width="1.7" stroke-linecap="butt"/>
<line x1="1719.80" y1="1418.90" x2="1719.80" y2="1837.80" stroke="#ecefef" stroke-width="1.7" stroke-linecap="butt"/>
<line x1="1762.50" y1="1418.90" x2="1762.50" y2="1837.80" stroke="#ecefef" stroke-width="1.7" stroke-linecap="butt"/>
<line x1="1805.20" y1="1418.90" x2="1805.20" y2="1837.80" stroke="#ecefef" stroke-width="1.7" stroke-linecap="butt"/>
<line x1="1847.90" y1="1418.90" x2="1847.90" y2="1837.80" stroke="#ecefef" stroke-width="1.7" stroke-linecap="butt"/>
<line x1="1890.60" y1="1418.90" x2="1890.60" y2="1837.80" stroke="#ecefef" stroke-width="1.7" stroke-linecap="butt"/>
<line x1="1933.30" y1="1418.90" x2="1933.30" y2="1837.80" stroke="#ecefef" stroke-width="1.7" stroke-linecap="butt"/>
<line x1="1976.00" y1="1418.90" x2="1976.00" y2="1837.80" stroke="#ecefef" stroke-width="1.7" stroke-linecap="butt"/>
<line x1="1575.20" y1="1818.90" x2="1608.20" y2="1818.90" stroke="#3b4346" stroke-width="1.5" stroke-linecap="butt"/>
<circle cx="1591.70" cy="1437.30" r="4.4" fill="#29312f"/>
<circle cx="1591.70" cy="1564.37" r="4.4" fill="#29312f"/>
<circle cx="1591.70" cy="1628.10" r="4.4" fill="#29312f"/>
<circle cx="1591.70" cy="1666.26" r="4.4" fill="#29312f"/>
<circle cx="1591.70" cy="1691.83" r="4.4" fill="#29312f"/>
<circle cx="1591.70" cy="1723.50" r="4.4" fill="#29312f"/>
<circle cx="1591.70" cy="1742.58" r="4.4" fill="#29312f"/>
<circle cx="1591.70" cy="1763.95" r="4.4" fill="#29312f"/>
<circle cx="1591.70" cy="1791.42" r="4.4" fill="#29312f"/>
<circle cx="1591.70" cy="1796.39" r="4.4" fill="#29312f"/>
<circle cx="1591.70" cy="1805.93" r="4.4" fill="#29312f"/>
<circle cx="1591.70" cy="1810.50" r="4.4" fill="#29312f"/>
<circle cx="1591.70" cy="1802.11" r="4.2" fill="#2f62ea"/>
<rect x="1618.10" y="1799.63" width="32.6" height="3.05" fill="#555" stroke="#3b4346" stroke-width="1.2"/>
<line x1="1618.10" y1="1801.12" x2="1650.70" y2="1801.12" stroke="#3b4346" stroke-width="2.2" stroke-linecap="butt"/>
<circle cx="1634.40" cy="1797.15" r="4.4" fill="#29312f"/>
<circle cx="1634.40" cy="1802.49" r="4.2" fill="#2f62ea"/>
<line x1="1660.60" y1="1818.90" x2="1693.60" y2="1818.90" stroke="#3b4346" stroke-width="1.5" stroke-linecap="butt"/>
<circle cx="1677.10" cy="1437.30" r="4.4" fill="#29312f"/>
<circle cx="1677.10" cy="1564.37" r="4.4" fill="#29312f"/>
<circle cx="1677.10" cy="1628.10" r="4.4" fill="#29312f"/>
<circle cx="1677.10" cy="1691.83" r="4.4" fill="#29312f"/>
<circle cx="1677.10" cy="1723.50" r="4.4" fill="#29312f"/>
<circle cx="1677.10" cy="1742.58" r="4.4" fill="#29312f"/>
<circle cx="1677.10" cy="1763.95" r="4.4" fill="#29312f"/>
<circle cx="1677.10" cy="1787.23" r="4.4" fill="#29312f"/>
<circle cx="1677.10" cy="1809.36" r="4.4" fill="#29312f"/>
<circle cx="1677.10" cy="1793.71" r="4.2" fill="#2f62ea"/>
<rect x="1703.50" y="1790.66" width="32.6" height="4.96" fill="#555" stroke="#3b4346" stroke-width="1.2"/>
<line x1="1703.50" y1="1792.57" x2="1736.10" y2="1792.57" stroke="#3b4346" stroke-width="2.2" stroke-linecap="butt"/>
<circle cx="1719.80" cy="1783.03" r="4.4" fill="#29312f"/>
<circle cx="1719.80" cy="1785.70" r="4.4" fill="#29312f"/>
<circle cx="1719.80" cy="1801.73" r="4.4" fill="#29312f"/>
<circle cx="1719.80" cy="1793.71" r="4.2" fill="#2f62ea"/>
<line x1="1746.00" y1="1818.90" x2="1779.00" y2="1818.90" stroke="#3b4346" stroke-width="1.5" stroke-linecap="butt"/>
<circle cx="1762.50" cy="1437.30" r="4.4" fill="#29312f"/>
<circle cx="1762.50" cy="1628.10" r="4.4" fill="#29312f"/>
<circle cx="1762.50" cy="1691.83" r="4.4" fill="#29312f"/>
<circle cx="1762.50" cy="1723.50" r="4.4" fill="#29312f"/>
<circle cx="1762.50" cy="1755.17" r="4.4" fill="#29312f"/>
<circle cx="1762.50" cy="1781.12" r="4.4" fill="#29312f"/>
<circle cx="1762.50" cy="1784.56" r="4.4" fill="#29312f"/>
<circle cx="1762.50" cy="1801.73" r="4.4" fill="#29312f"/>
<circle cx="1762.50" cy="1795.24" r="4.2" fill="#2f62ea"/>
<rect x="1788.90" y="1794.86" width="32.6" height="4.58" fill="#555" stroke="#3b4346" stroke-width="1.2"/>
<line x1="1788.90" y1="1796.77" x2="1821.50" y2="1796.77" stroke="#3b4346" stroke-width="2.2" stroke-linecap="butt"/>
<circle cx="1805.20" cy="1788.37" r="4.4" fill="#29312f"/>
<circle cx="1805.20" cy="1791.42" r="4.4" fill="#29312f"/>
<circle cx="1805.20" cy="1804.40" r="4.4" fill="#29312f"/>
<circle cx="1805.20" cy="1806.69" r="4.4" fill="#29312f"/>
<circle cx="1805.20" cy="1795.62" r="4.2" fill="#2f62ea"/>
<line x1="1831.40" y1="1818.90" x2="1864.40" y2="1818.90" stroke="#3b4346" stroke-width="1.5" stroke-linecap="butt"/>
<circle cx="1847.90" cy="1437.30" r="4.4" fill="#29312f"/>
<circle cx="1847.90" cy="1628.10" r="4.4" fill="#29312f"/>
<circle cx="1847.90" cy="1691.83" r="4.4" fill="#29312f"/>
<circle cx="1847.90" cy="1723.50" r="4.4" fill="#29312f"/>
<circle cx="1847.90" cy="1742.58" r="4.4" fill="#29312f"/>
<circle cx="1847.90" cy="1755.17" r="4.4" fill="#29312f"/>
<circle cx="1847.90" cy="1791.42" r="4.4" fill="#29312f"/>
<circle cx="1847.90" cy="1807.07" r="4.4" fill="#29312f"/>
<circle cx="1847.90" cy="1810.89" r="4.4" fill="#29312f"/>
<circle cx="1847.90" cy="1814.70" r="4.4" fill="#29312f"/>
<circle cx="1847.90" cy="1797.15" r="4.2" fill="#2f62ea"/>
<line x1="1890.60" y1="1807.45" x2="1890.60" y2="1801.73" stroke="#3b4346" stroke-width="1.2" stroke-linecap="butt"/>
<rect x="1874.30" y="1801.73" width="32.6" height="3.05" fill="#555" stroke="#3b4346" stroke-width="1.2"/>
<line x1="1874.30" y1="1802.87" x2="1906.90" y2="1802.87" stroke="#3b4346" stroke-width="2.2" stroke-linecap="butt"/>
<circle cx="1890.60" cy="1789.90" r="4.4" fill="#29312f"/>
<circle cx="1890.60" cy="1792.95" r="4.4" fill="#29312f"/>
<circle cx="1890.60" cy="1795.62" r="4.4" fill="#29312f"/>
<circle cx="1890.60" cy="1797.91" r="4.2" fill="#2f62ea"/>
<line x1="1916.80" y1="1818.90" x2="1949.80" y2="1818.90" stroke="#3b4346" stroke-width="1.5" stroke-linecap="butt"/>
<circle cx="1933.30" cy="1437.30" r="4.4" fill="#29312f"/>
<circle cx="1933.30" cy="1628.10" r="4.4" fill="#29312f"/>
<circle cx="1933.30" cy="1691.83" r="4.4" fill="#29312f"/>
<circle cx="1933.30" cy="1723.50" r="4.4" fill="#29312f"/>
<circle cx="1933.30" cy="1806.69" r="4.4" fill="#29312f"/>
<circle cx="1933.30" cy="1800.96" r="4.2" fill="#2f62ea"/>
<rect x="1959.70" y="1800.58" width="32.6" height="3.43" fill="#555" stroke="#3b4346" stroke-width="1.2"/>
<line x1="1959.70" y1="1802.11" x2="1992.30" y2="1802.11" stroke="#3b4346" stroke-width="2.2" stroke-linecap="butt"/>
<circle cx="1976.00" cy="1797.53" r="4.4" fill="#29312f"/>
<circle cx="1976.00" cy="1795.62" r="4.4" fill="#29312f"/>
<circle cx="1976.00" cy="1793.71" r="4.4" fill="#29312f"/>
<circle cx="1976.00" cy="1791.81" r="4.4" fill="#29312f"/>
<circle cx="1976.00" cy="1789.90" r="4.4" fill="#29312f"/>
<circle cx="1976.00" cy="1787.99" r="4.4" fill="#29312f"/>
<circle cx="1976.00" cy="1786.08" r="4.4" fill="#29312f"/>
<circle cx="1976.00" cy="1784.17" r="4.4" fill="#29312f"/>
<circle cx="1976.00" cy="1782.27" r="4.4" fill="#29312f"/>
<circle cx="1976.00" cy="1802.11" r="4.2" fill="#2f62ea"/>
<rect x="1566.5" y="1418.9" width="435.4000000000001" height="418.89999999999986" fill="none" stroke="#3b4346" stroke-width="1.7"/>
<line x1="1591.70" y1="1837.80" x2="1591.70" y2="1844.30" stroke="#3b4346" stroke-width="1.8" stroke-linecap="butt"/>
<line x1="1634.40" y1="1837.80" x2="1634.40" y2="1844.30" stroke="#3b4346" stroke-width="1.8" stroke-linecap="butt"/>
<line x1="1677.10" y1="1837.80" x2="1677.10" y2="1844.30" stroke="#3b4346" stroke-width="1.8" stroke-linecap="butt"/>
<line x1="1719.80" y1="1837.80" x2="1719.80" y2="1844.30" stroke="#3b4346" stroke-width="1.8" stroke-linecap="butt"/>
<line x1="1762.50" y1="1837.80" x2="1762.50" y2="1844.30" stroke="#3b4346" stroke-width="1.8" stroke-linecap="butt"/>
<line x1="1805.20" y1="1837.80" x2="1805.20" y2="1844.30" stroke="#3b4346" stroke-width="1.8" stroke-linecap="butt"/>
<line x1="1847.90" y1="1837.80" x2="1847.90" y2="1844.30" stroke="#3b4346" stroke-width="1.8" stroke-linecap="butt"/>
<line x1="1890.60" y1="1837.80" x2="1890.60" y2="1844.30" stroke="#3b4346" stroke-width="1.8" stroke-linecap="butt"/>
<line x1="1933.30" y1="1837.80" x2="1933.30" y2="1844.30" stroke="#3b4346" stroke-width="1.8" stroke-linecap="butt"/>
<line x1="1976.00" y1="1837.80" x2="1976.00" y2="1844.30" stroke="#3b4346" stroke-width="1.8" stroke-linecap="butt"/>
<line x1="1560.50" y1="1818.90" x2="1566.50" y2="1818.90" stroke="#3b4346" stroke-width="1.8" stroke-linecap="butt"/>
<text x="1527.50" y="1829.90" font-size="28" text-anchor="middle" font-weight="normal" fill="#000" stroke="#000" stroke-width="0.45">0</text>
<line x1="1560.50" y1="1723.50" x2="1566.50" y2="1723.50" stroke="#3b4346" stroke-width="1.8" stroke-linecap="butt"/>
<text x="1527.50" y="1734.50" font-size="28" text-anchor="middle" font-weight="normal" fill="#000" stroke="#000" stroke-width="0.45">25</text>
<line x1="1560.50" y1="1628.10" x2="1566.50" y2="1628.10" stroke="#3b4346" stroke-width="1.8" stroke-linecap="butt"/>
<text x="1527.50" y="1639.10" font-size="28" text-anchor="middle" font-weight="normal" fill="#000" stroke="#000" stroke-width="0.45">50</text>
<line x1="1560.50" y1="1532.70" x2="1566.50" y2="1532.70" stroke="#3b4346" stroke-width="1.8" stroke-linecap="butt"/>
<text x="1527.50" y="1543.70" font-size="28" text-anchor="middle" font-weight="normal" fill="#000" stroke="#000" stroke-width="0.45">75</text>
<line x1="1560.50" y1="1437.30" x2="1566.50" y2="1437.30" stroke="#3b4346" stroke-width="1.8" stroke-linecap="butt"/>
<text x="1527.50" y="1448.30" font-size="28" text-anchor="middle" font-weight="normal" fill="#000" stroke="#000" stroke-width="0.45">100</text>
<text x="1591.70" y="1874.80" font-size="28" text-anchor="middle" font-weight="normal" fill="#000" stroke="#000" stroke-width="0.45">I</text>
<text x="1634.40" y="1874.80" font-size="28" text-anchor="middle" font-weight="normal" fill="#000" stroke="#000" stroke-width="0.45">M</text>
<text x="1677.10" y="1874.80" font-size="28" text-anchor="middle" font-weight="normal" fill="#000" stroke="#000" stroke-width="0.45">I</text>
<text x="1719.80" y="1874.80" font-size="28" text-anchor="middle" font-weight="normal" fill="#000" stroke="#000" stroke-width="0.45">M</text>
<text x="1762.50" y="1874.80" font-size="28" text-anchor="middle" font-weight="normal" fill="#000" stroke="#000" stroke-width="0.45">I</text>
<text x="1805.20" y="1874.80" font-size="28" text-anchor="middle" font-weight="normal" fill="#000" stroke="#000" stroke-width="0.45">M</text>
<text x="1847.90" y="1874.80" font-size="28" text-anchor="middle" font-weight="normal" fill="#000" stroke="#000" stroke-width="0.45">I</text>
<text x="1890.60" y="1874.80" font-size="28" text-anchor="middle" font-weight="normal" fill="#000" stroke="#000" stroke-width="0.45">M</text>
<text x="1933.30" y="1874.80" font-size="28" text-anchor="middle" font-weight="normal" fill="#000" stroke="#000" stroke-width="0.45">I</text>
<text x="1976.00" y="1874.80" font-size="28" text-anchor="middle" font-weight="normal" fill="#000" stroke="#000" stroke-width="0.45">M</text>
<line x1="1582.70" y1="1884.20" x2="1644.80" y2="1884.20" stroke="#7d7d7d" stroke-width="1.3" stroke-linecap="butt"/>
<line x1="1667.10" y1="1884.20" x2="1729.30" y2="1884.20" stroke="#7d7d7d" stroke-width="1.3" stroke-linecap="butt"/>
<line x1="1752.40" y1="1884.20" x2="1814.50" y2="1884.20" stroke="#7d7d7d" stroke-width="1.3" stroke-linecap="butt"/>
<line x1="1839.60" y1="1884.20" x2="1902.20" y2="1884.20" stroke="#7d7d7d" stroke-width="1.3" stroke-linecap="butt"/>
<line x1="1924.80" y1="1884.20" x2="1987.50" y2="1884.20" stroke="#7d7d7d" stroke-width="1.3" stroke-linecap="butt"/>
<text x="1612.90" y="1914.30" font-size="28" text-anchor="middle" font-weight="normal" fill="#000" stroke="#000" stroke-width="0.45">20</text>
<text x="1697.90" y="1914.30" font-size="28" text-anchor="middle" font-weight="normal" fill="#000" stroke="#000" stroke-width="0.45">40</text>
<text x="1782.90" y="1914.30" font-size="28" text-anchor="middle" font-weight="normal" fill="#000" stroke="#000" stroke-width="0.45">60</text>
<text x="1870.40" y="1914.30" font-size="28" text-anchor="middle" font-weight="normal" fill="#000" stroke="#000" stroke-width="0.45">80</text>
<text x="1956.20" y="1914.30" font-size="28" text-anchor="middle" font-weight="normal" fill="#000" stroke="#000" stroke-width="0.45">100</text>
<text x="1783.60" y="1947.20" font-size="28" text-anchor="middle" font-weight="normal" fill="#000" stroke="#000" stroke-width="0.45">5mCpG percent</text>
<circle cx="1667.5" cy="1940.4" r="0.8" fill="#8a8a8a"/>
<text x="1784.00" y="1398.50" font-size="28" text-anchor="middle" font-weight="normal" fill="#000" stroke="#000" stroke-width="0.45">TET1 (C terminus)</text>
<text x="1454.10" y="1628.00" font-size="28" text-anchor="middle" font-weight="normal" fill="#000" stroke="#000" stroke-width="0.45" transform="rotate(-90 1454.10 1628.00)">% 5hmC on interrogated strand</text>
<text x="1487.60" y="1628.00" font-size="28" text-anchor="middle" font-weight="normal" fill="#000" stroke="#000" stroke-width="0.45" transform="rotate(-90 1487.60 1628.00)">of dyad</text>
</g>
<g id="panel-m">
<rect x="161.8" y="2157.9" width="435.3" height="419.6999999999998" fill="#fff"/>
<line x1="161.80" y1="2510.78" x2="597.10" y2="2510.78" stroke="#ecefef" stroke-width="1.0" stroke-linecap="butt"/>
<line x1="161.80" y1="2415.32" x2="597.10" y2="2415.32" stroke="#ecefef" stroke-width="1.0" stroke-linecap="butt"/>
<line x1="161.80" y1="2319.88" x2="597.10" y2="2319.88" stroke="#ecefef" stroke-width="1.0" stroke-linecap="butt"/>
<line x1="161.80" y1="2224.42" x2="597.10" y2="2224.42" stroke="#ecefef" stroke-width="1.0" stroke-linecap="butt"/>
<line x1="161.80" y1="2558.50" x2="597.10" y2="2558.50" stroke="#ecefef" stroke-width="1.7" stroke-linecap="butt"/>
<line x1="161.80" y1="2463.05" x2="597.10" y2="2463.05" stroke="#ecefef" stroke-width="1.7" stroke-linecap="butt"/>
<line x1="161.80" y1="2367.60" x2="597.10" y2="2367.60" stroke="#ecefef" stroke-width="1.7" stroke-linecap="butt"/>
<line x1="161.80" y1="2272.15" x2="597.10" y2="2272.15" stroke="#ecefef" stroke-width="1.7" stroke-linecap="butt"/>
<line x1="161.80" y1="2176.70" x2="597.10" y2="2176.70" stroke="#ecefef" stroke-width="1.7" stroke-linecap="butt"/>
<line x1="186.90" y1="2157.90" x2="186.90" y2="2577.60" stroke="#ecefef" stroke-width="1.7" stroke-linecap="butt"/>
<line x1="229.60" y1="2157.90" x2="229.60" y2="2577.60" stroke="#ecefef" stroke-width="1.7" stroke-linecap="butt"/>
<line x1="272.30" y1="2157.90" x2="272.30" y2="2577.60" stroke="#ecefef" stroke-width="1.7" stroke-linecap="butt"/>
<line x1="315.00" y1="2157.90" x2="315.00" y2="2577.60" stroke="#ecefef" stroke-width="1.7" stroke-linecap="butt"/>
<line x1="357.70" y1="2157.90" x2="357.70" y2="2577.60" stroke="#ecefef" stroke-width="1.7" stroke-linecap="butt"/>
<line x1="400.40" y1="2157.90" x2="400.40" y2="2577.60" stroke="#ecefef" stroke-width="1.7" stroke-linecap="butt"/>
<line x1="443.10" y1="2157.90" x2="443.10" y2="2577.60" stroke="#ecefef" stroke-width="1.7" stroke-linecap="butt"/>
<line x1="485.80" y1="2157.90" x2="485.80" y2="2577.60" stroke="#ecefef" stroke-width="1.7" stroke-linecap="butt"/>
<line x1="528.50" y1="2157.90" x2="528.50" y2="2577.60" stroke="#ecefef" stroke-width="1.7" stroke-linecap="butt"/>
<line x1="571.20" y1="2157.90" x2="571.20" y2="2577.60" stroke="#ecefef" stroke-width="1.7" stroke-linecap="butt"/>
<line x1="170.40" y1="2558.50" x2="203.40" y2="2558.50" stroke="#3b4346" stroke-width="1.5" stroke-linecap="butt"/>
<circle cx="186.90" cy="2176.70" r="4.4" fill="#29312f"/>
<circle cx="186.90" cy="2367.60" r="4.4" fill="#29312f"/>
<circle cx="186.90" cy="2405.78" r="4.4" fill="#29312f"/>
<circle cx="186.90" cy="2431.36" r="4.4" fill="#29312f"/>
<circle cx="186.90" cy="2463.05" r="4.4" fill="#29312f"/>
<circle cx="186.90" cy="2531.39" r="4.4" fill="#29312f"/>
<circle cx="186.90" cy="2547.43" r="4.4" fill="#29312f"/>
<circle cx="186.90" cy="2550.48" r="4.4" fill="#29312f"/>
<circle cx="186.90" cy="2553.15" r="4.4" fill="#29312f"/>
<circle cx="186.90" cy="2541.70" r="4.2" fill="#2f62ea"/>
<rect x="213.30" y="2542.46" width="32.6" height="2.29" fill="#444" stroke="#3b4346" stroke-width="1.2"/>
<line x1="213.30" y1="2543.61" x2="245.90" y2="2543.61" stroke="#3b4346" stroke-width="2.2" stroke-linecap="butt"/>
<circle cx="229.60" cy="2540.17" r="4.4" fill="#29312f"/>
<circle cx="229.60" cy="2547.05" r="4.4" fill="#29312f"/>
<circle cx="229.60" cy="2542.08" r="4.2" fill="#2f62ea"/>
<line x1="255.80" y1="2558.50" x2="288.80" y2="2558.50" stroke="#3b4346" stroke-width="1.5" stroke-linecap="butt"/>
<circle cx="272.30" cy="2176.70" r="4.4" fill="#29312f"/>
<circle cx="272.30" cy="2367.60" r="4.4" fill="#29312f"/>
<circle cx="272.30" cy="2431.36" r="4.4" fill="#29312f"/>
<circle cx="272.30" cy="2463.05" r="4.4" fill="#29312f"/>
<circle cx="272.30" cy="2482.14" r="4.4" fill="#29312f"/>
<circle cx="272.30" cy="2526.43" r="4.4" fill="#29312f"/>
<circle cx="272.30" cy="2548.95" r="4.4" fill="#29312f"/>
<circle cx="272.30" cy="2533.30" r="4.2" fill="#2f62ea"/>
<line x1="315.00" y1="2546.28" x2="315.00" y2="2536.74" stroke="#3b4346" stroke-width="1.2" stroke-linecap="butt"/>
<rect x="298.70" y="2536.74" width="32.6" height="5.73" fill="#cfcfcf" stroke="#3b4346" stroke-width="1.2"/>
<line x1="298.70" y1="2539.41" x2="331.30" y2="2539.41" stroke="#3b4346" stroke-width="1.2" stroke-linecap="butt"/>
<circle cx="315.00" cy="2523.76" r="4.4" fill="#29312f"/>
<circle cx="315.00" cy="2526.43" r="4.4" fill="#29312f"/>
<circle cx="315.00" cy="2529.10" r="4.4" fill="#29312f"/>
<circle cx="315.00" cy="2533.30" r="4.2" fill="#2f62ea"/>
<line x1="341.20" y1="2558.50" x2="374.20" y2="2558.50" stroke="#3b4346" stroke-width="1.5" stroke-linecap="butt"/>
<circle cx="357.70" cy="2176.70" r="4.4" fill="#29312f"/>
<circle cx="357.70" cy="2367.60" r="4.4" fill="#29312f"/>
<circle cx="357.70" cy="2431.36" r="4.4" fill="#29312f"/>
<circle cx="357.70" cy="2463.05" r="4.4" fill="#29312f"/>
<circle cx="357.70" cy="2521.47" r="4.4" fill="#29312f"/>
<circle cx="357.70" cy="2525.67" r="4.4" fill="#29312f"/>
<circle cx="357.70" cy="2541.70" r="4.4" fill="#29312f"/>
<circle cx="357.70" cy="2534.83" r="4.2" fill="#2f62ea"/>
<line x1="400.40" y1="2538.26" x2="400.40" y2="2526.43" stroke="#3b4346" stroke-width="1.2" stroke-linecap="butt"/>
<rect x="384.10" y="2532.16" width="32.6" height="6.11" fill="#cfcfcf" stroke="#3b4346" stroke-width="1.2"/>
<line x1="384.10" y1="2534.83" x2="416.70" y2="2534.83" stroke="#3b4346" stroke-width="1.2" stroke-linecap="butt"/>
<circle cx="400.40" cy="2517.65" r="4.4" fill="#29312f"/>
<circle cx="400.40" cy="2520.32" r="4.4" fill="#29312f"/>
<circle cx="400.40" cy="2523.37" r="4.4" fill="#29312f"/>
<circle cx="400.40" cy="2547.81" r="4.4" fill="#29312f"/>
<circle cx="400.40" cy="2534.83" r="4.2" fill="#2f62ea"/>
<line x1="426.60" y1="2558.50" x2="459.60" y2="2558.50" stroke="#3b4346" stroke-width="1.5" stroke-linecap="butt"/>
<circle cx="443.10" cy="2176.70" r="4.4" fill="#29312f"/>
<circle cx="443.10" cy="2367.60" r="4.4" fill="#29312f"/>
<circle cx="443.10" cy="2431.36" r="4.4" fill="#29312f"/>
<circle cx="443.10" cy="2531.01" r="4.4" fill="#29312f"/>
<circle cx="443.10" cy="2546.28" r="4.4" fill="#29312f"/>
<circle cx="443.10" cy="2549.72" r="4.4" fill="#29312f"/>
<circle cx="443.10" cy="2553.92" r="4.4" fill="#29312f"/>
<circle cx="443.10" cy="2535.97" r="4.2" fill="#2f62ea"/>
<rect x="469.50" y="2545.14" width="32.6" height="2.29" fill="#333" stroke="#3b4346" stroke-width="1.2"/>
<line x1="469.50" y1="2546.28" x2="502.10" y2="2546.28" stroke="#3b4346" stroke-width="2.2" stroke-linecap="butt"/>
<circle cx="485.80" cy="2551.25" r="4.4" fill="#29312f"/>
<circle cx="485.80" cy="2549.34" r="4.4" fill="#29312f"/>
<circle cx="485.80" cy="2547.43" r="4.4" fill="#29312f"/>
<circle cx="485.80" cy="2545.52" r="4.4" fill="#29312f"/>
<circle cx="485.80" cy="2543.61" r="4.4" fill="#29312f"/>
<circle cx="485.80" cy="2541.70" r="4.4" fill="#29312f"/>
<circle cx="485.80" cy="2539.79" r="4.4" fill="#29312f"/>
<circle cx="485.80" cy="2537.88" r="4.4" fill="#29312f"/>
<circle cx="485.80" cy="2535.97" r="4.4" fill="#29312f"/>
<circle cx="485.80" cy="2534.06" r="4.4" fill="#29312f"/>
<circle cx="485.80" cy="2532.16" r="4.4" fill="#29312f"/>
<circle cx="485.80" cy="2536.74" r="4.2" fill="#2f62ea"/>
<line x1="512.00" y1="2558.50" x2="545.00" y2="2558.50" stroke="#3b4346" stroke-width="1.5" stroke-linecap="butt"/>
<circle cx="528.50" cy="2176.70" r="4.4" fill="#29312f"/>
<circle cx="528.50" cy="2431.36" r="4.4" fill="#29312f"/>
<circle cx="528.50" cy="2544.76" r="4.4" fill="#29312f"/>
<circle cx="528.50" cy="2540.17" r="4.2" fill="#2f62ea"/>
<rect x="554.90" y="2544.18" width="32.6" height="2.48" fill="#333" stroke="#3b4346" stroke-width="1.2"/>
<line x1="554.90" y1="2545.52" x2="587.50" y2="2545.52" stroke="#3b4346" stroke-width="2.2" stroke-linecap="butt"/>
<circle cx="571.20" cy="2558.12" r="4.4" fill="#29312f"/>
<circle cx="571.20" cy="2556.21" r="4.4" fill="#29312f"/>
<circle cx="571.20" cy="2554.30" r="4.4" fill="#29312f"/>
<circle cx="571.20" cy="2552.39" r="4.4" fill="#29312f"/>
<circle cx="571.20" cy="2550.48" r="4.4" fill="#29312f"/>
<circle cx="571.20" cy="2548.57" r="4.4" fill="#29312f"/>
<circle cx="571.20" cy="2546.66" r="4.4" fill="#29312f"/>
<circle cx="571.20" cy="2544.76" r="4.4" fill="#29312f"/>
<circle cx="571.20" cy="2542.85" r="4.4" fill="#29312f"/>
<circle cx="571.20" cy="2540.94" r="4.4" fill="#29312f"/>
<circle cx="571.20" cy="2539.03" r="4.4" fill="#29312f"/>
<circle cx="571.20" cy="2537.12" r="4.4" fill="#29312f"/>
<circle cx="571.20" cy="2535.21" r="4.4" fill="#29312f"/>
<circle cx="571.20" cy="2533.30" r="4.4" fill="#29312f"/>
<circle cx="571.20" cy="2531.39" r="4.4" fill="#29312f"/>
<circle cx="571.20" cy="2529.48" r="4.4" fill="#29312f"/>
<circle cx="571.20" cy="2527.57" r="4.4" fill="#29312f"/>
<circle cx="571.20" cy="2525.67" r="4.4" fill="#29312f"/>
<circle cx="571.20" cy="2523.76" r="4.4" fill="#29312f"/>
<circle cx="571.20" cy="2521.85" r="4.4" fill="#29312f"/>
<circle cx="571.20" cy="2519.94" r="4.4" fill="#29312f"/>
<circle cx="571.20" cy="2541.70" r="4.2" fill="#2f62ea"/>
<rect x="161.8" y="2157.9" width="435.3" height="419.6999999999998" fill="none" stroke="#3b4346" stroke-width="1.7"/>
<line x1="186.90" y1="2577.60" x2="186.90" y2="2584.10" stroke="#3b4346" stroke-width="1.8" stroke-linecap="butt"/>
<line x1="229.60" y1="2577.60" x2="229.60" y2="2584.10" stroke="#3b4346" stroke-width="1.8" stroke-linecap="butt"/>
<line x1="272.30" y1="2577.60" x2="272.30" y2="2584.10" stroke="#3b4346" stroke-width="1.8" stroke-linecap="butt"/>
<line x1="315.00" y1="2577.60" x2="315.00" y2="2584.10" stroke="#3b4346" stroke-width="1.8" stroke-linecap="butt"/>
<line x1="357.70" y1="2577.60" x2="357.70" y2="2584.10" stroke="#3b4346" stroke-width="1.8" stroke-linecap="butt"/>
<line x1="400.40" y1="2577.60" x2="400.40" y2="2584.10" stroke="#3b4346" stroke-width="1.8" stroke-linecap="butt"/>
<line x1="443.10" y1="2577.60" x2="443.10" y2="2584.10" stroke="#3b4346" stroke-width="1.8" stroke-linecap="butt"/>
<line x1="485.80" y1="2577.60" x2="485.80" y2="2584.10" stroke="#3b4346" stroke-width="1.8" stroke-linecap="butt"/>
<line x1="528.50" y1="2577.60" x2="528.50" y2="2584.10" stroke="#3b4346" stroke-width="1.8" stroke-linecap="butt"/>
<line x1="571.20" y1="2577.60" x2="571.20" y2="2584.10" stroke="#3b4346" stroke-width="1.8" stroke-linecap="butt"/>
<line x1="155.80" y1="2558.50" x2="161.80" y2="2558.50" stroke="#3b4346" stroke-width="1.8" stroke-linecap="butt"/>
<text x="122.80" y="2569.50" font-size="28" text-anchor="middle" font-weight="normal" fill="#000" stroke="#000" stroke-width="0.45">0</text>
<line x1="155.80" y1="2463.05" x2="161.80" y2="2463.05" stroke="#3b4346" stroke-width="1.8" stroke-linecap="butt"/>
<text x="122.80" y="2474.05" font-size="28" text-anchor="middle" font-weight="normal" fill="#000" stroke="#000" stroke-width="0.45">25</text>
<line x1="155.80" y1="2367.60" x2="161.80" y2="2367.60" stroke="#3b4346" stroke-width="1.8" stroke-linecap="butt"/>
<text x="122.80" y="2378.60" font-size="28" text-anchor="middle" font-weight="normal" fill="#000" stroke="#000" stroke-width="0.45">50</text>
<line x1="155.80" y1="2272.15" x2="161.80" y2="2272.15" stroke="#3b4346" stroke-width="1.8" stroke-linecap="butt"/>
<text x="122.80" y="2283.15" font-size="28" text-anchor="middle" font-weight="normal" fill="#000" stroke="#000" stroke-width="0.45">75</text>
<line x1="155.80" y1="2176.70" x2="161.80" y2="2176.70" stroke="#3b4346" stroke-width="1.8" stroke-linecap="butt"/>
<text x="122.80" y="2187.70" font-size="28" text-anchor="middle" font-weight="normal" fill="#000" stroke="#000" stroke-width="0.45">100</text>
<text x="186.90" y="2614.50" font-size="28" text-anchor="middle" font-weight="normal" fill="#000" stroke="#000" stroke-width="0.45">I</text>
<text x="229.60" y="2614.50" font-size="28" text-anchor="middle" font-weight="normal" fill="#000" stroke="#000" stroke-width="0.45">M</text>
<text x="272.30" y="2614.50" font-size="28" text-anchor="middle" font-weight="normal" fill="#000" stroke="#000" stroke-width="0.45">I</text>
<text x="315.00" y="2614.50" font-size="28" text-anchor="middle" font-weight="normal" fill="#000" stroke="#000" stroke-width="0.45">M</text>
<text x="357.70" y="2614.50" font-size="28" text-anchor="middle" font-weight="normal" fill="#000" stroke="#000" stroke-width="0.45">I</text>
<text x="400.40" y="2614.50" font-size="28" text-anchor="middle" font-weight="normal" fill="#000" stroke="#000" stroke-width="0.45">M</text>
<text x="443.10" y="2614.50" font-size="28" text-anchor="middle" font-weight="normal" fill="#000" stroke="#000" stroke-width="0.45">I</text>
<text x="485.80" y="2614.50" font-size="28" text-anchor="middle" font-weight="normal" fill="#000" stroke="#000" stroke-width="0.45">M</text>
<text x="528.50" y="2614.50" font-size="28" text-anchor="middle" font-weight="normal" fill="#000" stroke="#000" stroke-width="0.45">I</text>
<text x="571.20" y="2614.50" font-size="28" text-anchor="middle" font-weight="normal" fill="#000" stroke="#000" stroke-width="0.45">M</text>
<line x1="177.90" y1="2624.00" x2="240.00" y2="2624.00" stroke="#7d7d7d" stroke-width="1.3" stroke-linecap="butt"/>
<line x1="262.60" y1="2624.00" x2="324.70" y2="2624.00" stroke="#7d7d7d" stroke-width="1.3" stroke-linecap="butt"/>
<line x1="347.90" y1="2624.00" x2="410.00" y2="2624.00" stroke="#7d7d7d" stroke-width="1.3" stroke-linecap="butt"/>
<line x1="435.00" y1="2624.00" x2="497.40" y2="2624.00" stroke="#7d7d7d" stroke-width="1.3" stroke-linecap="butt"/>
<line x1="520.00" y1="2624.00" x2="582.70" y2="2624.00" stroke="#7d7d7d" stroke-width="1.3" stroke-linecap="butt"/>
<text x="208.10" y="2654.00" font-size="28" text-anchor="middle" font-weight="normal" fill="#000" stroke="#000" stroke-width="0.45">20</text>
<text x="292.60" y="2654.00" font-size="28" text-anchor="middle" font-weight="normal" fill="#000" stroke="#000" stroke-width="0.45">40</text>
<text x="378.40" y="2654.00" font-size="28" text-anchor="middle" font-weight="normal" fill="#000" stroke="#000" stroke-width="0.45">60</text>
<text x="465.50" y="2654.00" font-size="28" text-anchor="middle" font-weight="normal" fill="#000" stroke="#000" stroke-width="0.45">80</text>
<text x="551.40" y="2654.00" font-size="28" text-anchor="middle" font-weight="normal" fill="#000" stroke="#000" stroke-width="0.45">100</text>
<text x="378.80" y="2686.60" font-size="28" text-anchor="middle" font-weight="normal" fill="#000" stroke="#000" stroke-width="0.45">5mCpG percent</text>
<circle cx="262.7" cy="2679.8" r="0.8" fill="#8a8a8a"/>
<text x="379.20" y="2138.10" font-size="28" text-anchor="middle" font-weight="normal" fill="#000" stroke="#000" stroke-width="0.45">TET1 (N terminus)</text>
<text x="49.40" y="2367.70" font-size="28" text-anchor="middle" font-weight="normal" fill="#000" stroke="#000" stroke-width="0.45" transform="rotate(-90 49.40 2367.70)">% 5hmC on interrogated strand</text>
<text x="82.60" y="2367.70" font-size="28" text-anchor="middle" font-weight="normal" fill="#000" stroke="#000" stroke-width="0.45" transform="rotate(-90 82.60 2367.70)">of dyad</text>
</g>
</svg>
</body></html>
